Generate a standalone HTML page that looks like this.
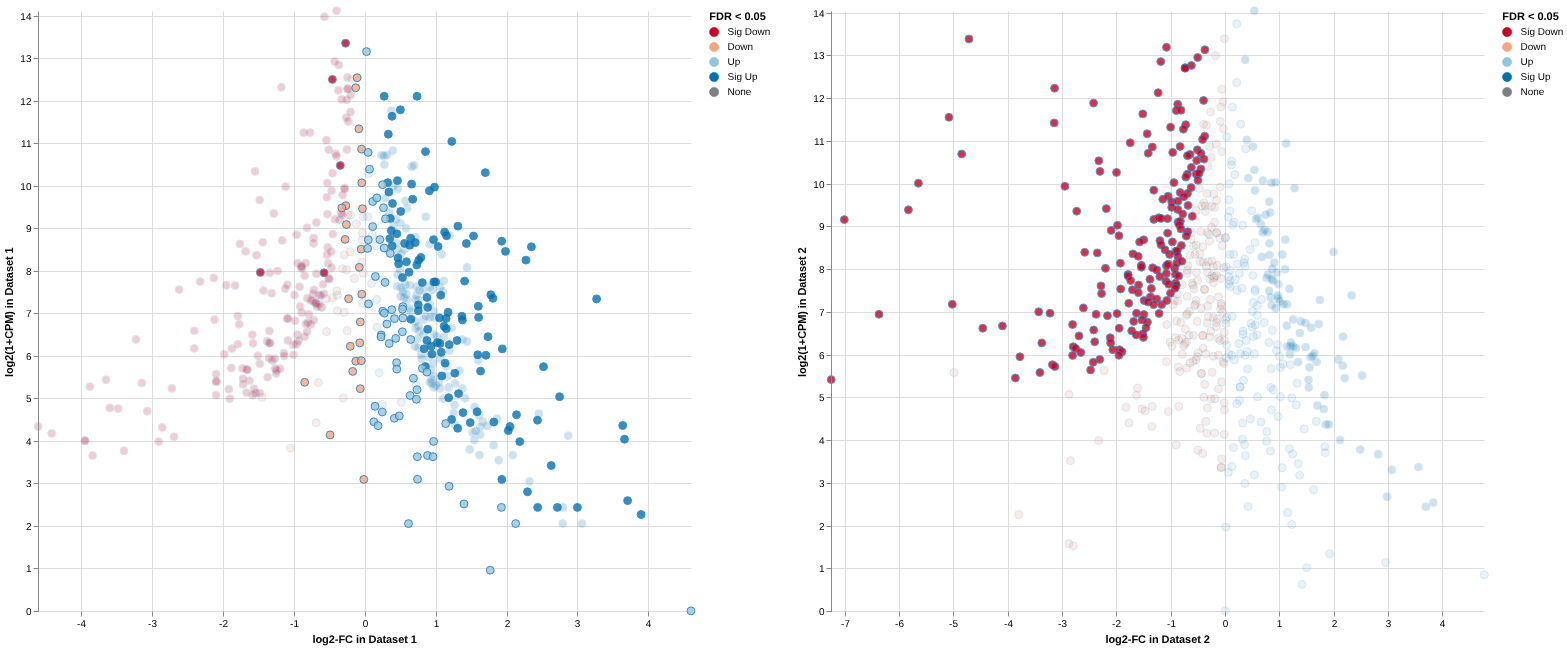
<!DOCTYPE html>
<html><head><meta charset="utf-8"><title>chart</title>
<style>html,body{margin:0;padding:0;background:#fff}svg{display:block;will-change:transform}text{font-family:"Liberation Sans",sans-serif;fill:#000}</style>
</head><body>
<svg width="1567" height="649" viewBox="0 0 1567 649">
<rect width="1567" height="649" fill="#fff"/>
<path d="M81.5 11.5V611.5M152.5 11.5V611.5M223.5 11.5V611.5M294.5 11.5V611.5M365.5 11.5V611.5M436.5 11.5V611.5M507.5 11.5V611.5M577.5 11.5V611.5M648.5 11.5V611.5M38.5 611.5H691.5M38.5 568.5H691.5M38.5 526.5H691.5M38.5 483.5H691.5M38.5 441.5H691.5M38.5 398.5H691.5M38.5 356.5H691.5M38.5 313.5H691.5M38.5 271.5H691.5M38.5 228.5H691.5M38.5 186.5H691.5M38.5 143.5H691.5M38.5 101.5H691.5M38.5 58.5H691.5M38.5 16.5H691.5" stroke="#ddd" stroke-width="1" fill="none"/>
<g stroke="#1f77b4" stroke-width="1">
<circle opacity="0.2" stroke="#2a7fc0" cx="336.5" cy="10.8" r="3.95" fill="#ca0020"/>
<circle opacity="0.2" stroke="#2a7fc0" cx="324.4" cy="16.7" r="3.95" fill="#ca0020"/>
<circle opacity="0.2" stroke="#2a7fc0" cx="334.6" cy="61.4" r="3.95" fill="#ca0020"/>
<circle opacity="0.2" stroke="#2a7fc0" cx="338.9" cy="64.9" r="3.95" fill="#ca0020"/>
<circle opacity="0.2" stroke="#2a7fc0" cx="281.3" cy="87.3" r="3.95" fill="#ca0020"/>
<circle opacity="0.2" stroke="#2a7fc0" cx="347.3" cy="77.5" r="3.95" fill="#ca0020"/>
<circle opacity="0.2" stroke="#2a7fc0" cx="352.4" cy="79.0" r="3.95" fill="#f4a582"/>
<circle opacity="0.2" stroke="#2a7fc0" cx="347.7" cy="88.6" r="3.95" fill="#ca0020"/>
<circle opacity="0.2" stroke="#2a7fc0" cx="347.7" cy="89.0" r="3.95" fill="#ca0020"/>
<circle opacity="0.2" stroke="#2a7fc0" cx="338.5" cy="90.4" r="3.95" fill="#ca0020"/>
<circle opacity="0.2" stroke="#2a7fc0" cx="350.8" cy="94.9" r="3.95" fill="#ca0020"/>
<circle opacity="0.2" stroke="#2a7fc0" cx="341.6" cy="99.4" r="3.95" fill="#ca0020"/>
<circle opacity="0.2" stroke="#2a7fc0" cx="346.9" cy="99.8" r="3.95" fill="#ca0020"/>
<circle opacity="0.2" stroke="#2a7fc0" cx="391.6" cy="110.6" r="3.95" fill="#0571b0"/>
<circle opacity="0.2" stroke="#2a7fc0" cx="350.5" cy="111.9" r="3.95" fill="#ca0020"/>
<circle opacity="0.2" stroke="#2a7fc0" cx="346.3" cy="117.6" r="3.95" fill="#ca0020"/>
<circle opacity="0.2" stroke="#2a7fc0" cx="348.3" cy="121.4" r="3.95" fill="#ca0020"/>
<circle opacity="0.2" stroke="#2a7fc0" cx="339.7" cy="220.0" r="3.95" fill="#ca0020"/>
<circle opacity="0.2" stroke="#2a7fc0" cx="303.6" cy="132.6" r="3.95" fill="#ca0020"/>
<circle opacity="0.2" stroke="#2a7fc0" cx="310.1" cy="132.6" r="3.95" fill="#ca0020"/>
<circle opacity="0.2" stroke="#2a7fc0" cx="326.4" cy="140.2" r="3.95" fill="#ca0020"/>
<circle opacity="0.2" stroke="#2a7fc0" cx="328.7" cy="149.8" r="3.95" fill="#ca0020"/>
<circle opacity="0.2" stroke="#2a7fc0" cx="346.9" cy="149.5" r="3.95" fill="#ca0020"/>
<circle opacity="0.2" stroke="#2a7fc0" cx="335.6" cy="153.6" r="3.95" fill="#ca0020"/>
<circle opacity="0.2" stroke="#2a7fc0" cx="336.5" cy="156.3" r="3.95" fill="#ca0020"/>
<circle opacity="0.2" stroke="#2a7fc0" cx="392.8" cy="150.6" r="3.95" fill="#0571b0"/>
<circle opacity="0.2" stroke="#2a7fc0" cx="381.4" cy="155.3" r="3.95" fill="#0571b0"/>
<circle opacity="0.2" stroke="#2a7fc0" cx="384.0" cy="155.7" r="3.95" fill="#0571b0"/>
<circle opacity="0.2" stroke="#2a7fc0" cx="387.1" cy="155.1" r="3.95" fill="#0571b0"/>
<circle opacity="0.2" stroke="#2a7fc0" cx="384.4" cy="164.5" r="3.95" fill="#0571b0"/>
<circle opacity="0.2" stroke="#2a7fc0" cx="368.5" cy="173.6" r="3.95" fill="#92c5de"/>
<circle opacity="0.2" stroke="#2a7fc0" cx="411.6" cy="166.7" r="3.95" fill="#0571b0"/>
<circle opacity="0.2" stroke="#2a7fc0" cx="414.1" cy="165.3" r="3.95" fill="#0571b0"/>
<circle opacity="0.2" stroke="#2a7fc0" cx="255.0" cy="171.4" r="3.95" fill="#ca0020"/>
<circle opacity="0.2" stroke="#2a7fc0" cx="332.6" cy="173.2" r="3.95" fill="#ca0020"/>
<circle opacity="0.2" stroke="#2a7fc0" cx="327.3" cy="183.0" r="3.95" fill="#ca0020"/>
<circle opacity="0.2" stroke="#2a7fc0" cx="285.6" cy="186.7" r="3.95" fill="#ca0020"/>
<circle opacity="0.2" stroke="#2a7fc0" cx="344.6" cy="187.9" r="3.95" fill="#ca0020"/>
<circle opacity="0.2" stroke="#2a7fc0" cx="344.6" cy="189.0" r="3.95" fill="#ca0020"/>
<circle opacity="0.2" stroke="#2a7fc0" cx="331.6" cy="190.6" r="3.95" fill="#ca0020"/>
<circle opacity="0.2" stroke="#2a7fc0" cx="342.6" cy="195.1" r="3.95" fill="#ca0020"/>
<circle opacity="0.2" stroke="#2a7fc0" cx="326.9" cy="197.3" r="3.95" fill="#ca0020"/>
<circle opacity="0.2" stroke="#2a7fc0" cx="259.7" cy="200.0" r="3.95" fill="#ca0020"/>
<circle opacity="0.2" stroke="#2a7fc0" cx="397.9" cy="189.0" r="3.95" fill="#0571b0"/>
<circle opacity="0.2" stroke="#2a7fc0" cx="393.2" cy="186.3" r="3.95" fill="#0571b0"/>
<circle opacity="0.2" stroke="#2a7fc0" cx="273.8" cy="213.5" r="3.95" fill="#ca0020"/>
<circle opacity="0.2" stroke="#2a7fc0" cx="327.5" cy="214.1" r="3.95" fill="#ca0020"/>
<circle opacity="0.2" stroke="#2a7fc0" cx="335.0" cy="219.4" r="3.95" fill="#ca0020"/>
<circle opacity="0.2" stroke="#2a7fc0" cx="316.4" cy="222.5" r="3.95" fill="#ca0020"/>
<circle opacity="0.2" stroke="#2a7fc0" cx="307.1" cy="227.8" r="3.95" fill="#ca0020"/>
<circle opacity="0.2" stroke="#2a7fc0" cx="296.6" cy="234.7" r="3.95" fill="#ca0020"/>
<circle opacity="0.2" stroke="#2a7fc0" cx="332.8" cy="234.1" r="3.95" fill="#ca0020"/>
<circle opacity="0.2" stroke="#2a7fc0" cx="313.6" cy="238.0" r="3.95" fill="#ca0020"/>
<circle opacity="0.2" stroke="#2a7fc0" cx="313.6" cy="243.5" r="3.95" fill="#ca0020"/>
<circle opacity="0.2" stroke="#2a7fc0" cx="282.1" cy="240.4" r="3.95" fill="#ca0020"/>
<circle opacity="0.2" stroke="#2a7fc0" cx="262.7" cy="242.3" r="3.95" fill="#ca0020"/>
<circle opacity="0.2" stroke="#2a7fc0" cx="239.9" cy="243.9" r="3.95" fill="#ca0020"/>
<circle opacity="0.2" stroke="#2a7fc0" cx="245.6" cy="251.4" r="3.95" fill="#ca0020"/>
<circle opacity="0.2" stroke="#2a7fc0" cx="256.6" cy="255.1" r="3.95" fill="#ca0020"/>
<circle opacity="0.2" stroke="#2a7fc0" cx="327.7" cy="247.4" r="3.95" fill="#ca0020"/>
<circle opacity="0.2" stroke="#2a7fc0" cx="331.4" cy="251.7" r="3.95" fill="#ca0020"/>
<circle opacity="0.2" stroke="#2a7fc0" cx="326.9" cy="254.7" r="3.95" fill="#ca0020"/>
<circle opacity="0.2" stroke="#2a7fc0" cx="341.0" cy="213.0" r="3.95" fill="#ca0020"/>
<circle opacity="0.2" stroke="#2a7fc0" cx="385.2" cy="198.2" r="3.95" fill="#0571b0"/>
<circle opacity="0.2" stroke="#2a7fc0" cx="405.6" cy="200.8" r="3.95" fill="#0571b0"/>
<circle opacity="0.2" stroke="#2a7fc0" cx="407.2" cy="207.9" r="3.95" fill="#0571b0"/>
<circle opacity="0.2" stroke="#2a7fc0" cx="425.8" cy="216.8" r="3.95" fill="#0571b0"/>
<circle opacity="0.2" stroke="#2a7fc0" cx="389.3" cy="212.5" r="3.95" fill="#0571b0"/>
<circle opacity="0.2" stroke="#2a7fc0" cx="395.9" cy="219.2" r="3.95" fill="#0571b0"/>
<circle opacity="0.2" stroke="#2a7fc0" cx="400.5" cy="223.2" r="3.95" fill="#0571b0"/>
<circle opacity="0.2" stroke="#2a7fc0" cx="406.1" cy="228.3" r="3.95" fill="#0571b0"/>
<circle opacity="0.2" stroke="#2a7fc0" cx="393.4" cy="225.8" r="3.95" fill="#0571b0"/>
<circle opacity="0.2" stroke="#2a7fc0" cx="429.6" cy="244.2" r="3.95" fill="#0571b0"/>
<circle opacity="0.2" stroke="#2a7fc0" cx="441.7" cy="254.2" r="3.95" fill="#0571b0"/>
<circle opacity="0.2" stroke="#2a7fc0" cx="415.3" cy="237.0" r="3.95" fill="#0571b0"/>
<circle opacity="0.2" stroke="#2a7fc0" cx="449.5" cy="235.5" r="3.95" fill="#0571b0"/>
<circle opacity="0.2" stroke="#2a7fc0" cx="396.9" cy="243.2" r="3.95" fill="#0571b0"/>
<circle opacity="0.2" stroke="#2a7fc0" cx="397.5" cy="250.3" r="3.95" fill="#0571b0"/>
<circle opacity="0.2" stroke="#2a7fc0" cx="401.5" cy="253.9" r="3.95" fill="#0571b0"/>
<circle opacity="0.2" stroke="#2a7fc0" cx="404.6" cy="249.3" r="3.95" fill="#0571b0"/>
<circle opacity="0.2" stroke="#2a7fc0" cx="350.5" cy="215.1" r="3.95" fill="#f4a582"/>
<circle opacity="0.2" stroke="#2a7fc0" cx="347.9" cy="214.6" r="3.95" fill="#f4a582"/>
<circle opacity="0.2" stroke="#2a7fc0" cx="363.2" cy="216.8" r="3.95" fill="#f4a582"/>
<circle opacity="0.2" stroke="#2a7fc0" cx="367.6" cy="216.6" r="3.95" fill="#92c5de"/>
<circle opacity="0.2" stroke="#2a7fc0" cx="356.4" cy="223.8" r="3.95" fill="#f4a582"/>
<circle opacity="0.2" stroke="#2a7fc0" cx="362.5" cy="232.9" r="3.95" fill="#f4a582"/>
<circle opacity="0.2" stroke="#2a7fc0" cx="362.2" cy="240.1" r="3.95" fill="#f4a582"/>
<circle opacity="0.2" stroke="#2a7fc0" cx="372.4" cy="235.0" r="3.95" fill="#92c5de"/>
<circle opacity="0.2" stroke="#2a7fc0" cx="376.5" cy="245.7" r="3.95" fill="#92c5de"/>
<circle opacity="0.2" stroke="#2a7fc0" cx="350.2" cy="251.8" r="3.95" fill="#f4a582"/>
<circle opacity="0.2" stroke="#2a7fc0" cx="344.3" cy="254.9" r="3.95" fill="#f4a582"/>
<circle opacity="0.2" stroke="#2a7fc0" cx="342.3" cy="214.6" r="3.95" fill="#ca0020"/>
<circle opacity="0.2" stroke="#2a7fc0" cx="276.6" cy="370.4" r="3.95" fill="#ca0020"/>
<circle opacity="0.2" stroke="#2a7fc0" cx="179.2" cy="289.6" r="3.95" fill="#ca0020"/>
<circle opacity="0.2" stroke="#2a7fc0" cx="200.2" cy="281.6" r="3.95" fill="#ca0020"/>
<circle opacity="0.2" stroke="#2a7fc0" cx="213.7" cy="277.9" r="3.95" fill="#ca0020"/>
<circle opacity="0.2" stroke="#2a7fc0" cx="226.3" cy="285.3" r="3.95" fill="#ca0020"/>
<circle opacity="0.2" stroke="#2a7fc0" cx="235.1" cy="285.5" r="3.95" fill="#ca0020"/>
<circle opacity="0.2" stroke="#2a7fc0" cx="135.9" cy="339.4" r="3.95" fill="#ca0020"/>
<circle opacity="0.2" stroke="#2a7fc0" cx="194.3" cy="330.8" r="3.95" fill="#ca0020"/>
<circle opacity="0.2" stroke="#2a7fc0" cx="194.3" cy="348.4" r="3.95" fill="#ca0020"/>
<circle opacity="0.2" stroke="#2a7fc0" cx="214.5" cy="319.6" r="3.95" fill="#ca0020"/>
<circle opacity="0.2" stroke="#2a7fc0" cx="237.8" cy="316.1" r="3.95" fill="#ca0020"/>
<circle opacity="0.2" stroke="#2a7fc0" cx="239.2" cy="324.3" r="3.95" fill="#ca0020"/>
<circle opacity="0.2" stroke="#2a7fc0" cx="106.0" cy="379.8" r="3.95" fill="#ca0020"/>
<circle opacity="0.2" stroke="#2a7fc0" cx="89.9" cy="386.6" r="3.95" fill="#ca0020"/>
<circle opacity="0.2" stroke="#2a7fc0" cx="141.8" cy="382.9" r="3.95" fill="#ca0020"/>
<circle opacity="0.2" stroke="#2a7fc0" cx="171.8" cy="388.4" r="3.95" fill="#ca0020"/>
<circle opacity="0.2" stroke="#2a7fc0" cx="216.1" cy="374.1" r="3.95" fill="#ca0020"/>
<circle opacity="0.2" stroke="#2a7fc0" cx="216.3" cy="381.0" r="3.95" fill="#ca0020"/>
<circle opacity="0.2" stroke="#2a7fc0" cx="216.3" cy="381.9" r="3.95" fill="#ca0020"/>
<circle opacity="0.2" stroke="#2a7fc0" cx="224.3" cy="354.3" r="3.95" fill="#ca0020"/>
<circle opacity="0.2" stroke="#2a7fc0" cx="231.8" cy="348.6" r="3.95" fill="#ca0020"/>
<circle opacity="0.2" stroke="#2a7fc0" cx="237.8" cy="344.3" r="3.95" fill="#ca0020"/>
<circle opacity="0.2" stroke="#2a7fc0" cx="231.4" cy="368.0" r="3.95" fill="#ca0020"/>
<circle opacity="0.2" stroke="#2a7fc0" cx="228.8" cy="389.2" r="3.95" fill="#ca0020"/>
<circle opacity="0.2" stroke="#2a7fc0" cx="269.8" cy="272.8" r="3.95" fill="#ca0020"/>
<circle opacity="0.2" stroke="#2a7fc0" cx="277.6" cy="271.0" r="3.95" fill="#ca0020"/>
<circle opacity="0.2" stroke="#2a7fc0" cx="263.5" cy="290.6" r="3.95" fill="#ca0020"/>
<circle opacity="0.2" stroke="#2a7fc0" cx="271.7" cy="293.2" r="3.95" fill="#ca0020"/>
<circle opacity="0.2" stroke="#2a7fc0" cx="287.4" cy="284.7" r="3.95" fill="#ca0020"/>
<circle opacity="0.2" stroke="#2a7fc0" cx="285.3" cy="288.7" r="3.95" fill="#ca0020"/>
<circle opacity="0.2" stroke="#2a7fc0" cx="294.5" cy="294.9" r="3.95" fill="#ca0020"/>
<circle opacity="0.2" stroke="#2a7fc0" cx="269.4" cy="331.0" r="3.95" fill="#ca0020"/>
<circle opacity="0.2" stroke="#2a7fc0" cx="252.3" cy="334.7" r="3.95" fill="#ca0020"/>
<circle opacity="0.2" stroke="#2a7fc0" cx="253.1" cy="343.3" r="3.95" fill="#ca0020"/>
<circle opacity="0.2" stroke="#2a7fc0" cx="267.0" cy="341.2" r="3.95" fill="#ca0020"/>
<circle opacity="0.2" stroke="#2a7fc0" cx="270.0" cy="342.9" r="3.95" fill="#ca0020"/>
<circle opacity="0.2" stroke="#2a7fc0" cx="269.6" cy="343.3" r="3.95" fill="#ca0020"/>
<circle opacity="0.2" stroke="#2a7fc0" cx="287.4" cy="318.8" r="3.95" fill="#ca0020"/>
<circle opacity="0.2" stroke="#2a7fc0" cx="287.8" cy="318.3" r="3.95" fill="#ca0020"/>
<circle opacity="0.2" stroke="#2a7fc0" cx="287.8" cy="340.4" r="3.95" fill="#ca0020"/>
<circle opacity="0.2" stroke="#2a7fc0" cx="257.8" cy="355.7" r="3.95" fill="#ca0020"/>
<circle opacity="0.2" stroke="#2a7fc0" cx="269.0" cy="358.2" r="3.95" fill="#ca0020"/>
<circle opacity="0.2" stroke="#2a7fc0" cx="272.1" cy="360.4" r="3.95" fill="#ca0020"/>
<circle opacity="0.2" stroke="#2a7fc0" cx="274.9" cy="358.6" r="3.95" fill="#ca0020"/>
<circle opacity="0.2" stroke="#2a7fc0" cx="283.9" cy="353.1" r="3.95" fill="#ca0020"/>
<circle opacity="0.2" stroke="#2a7fc0" cx="284.3" cy="356.1" r="3.95" fill="#ca0020"/>
<circle opacity="0.2" stroke="#2a7fc0" cx="293.5" cy="354.7" r="3.95" fill="#ca0020"/>
<circle opacity="0.2" stroke="#2a7fc0" cx="259.8" cy="363.7" r="3.95" fill="#ca0020"/>
<circle opacity="0.2" stroke="#2a7fc0" cx="242.5" cy="368.4" r="3.95" fill="#ca0020"/>
<circle opacity="0.2" stroke="#2a7fc0" cx="246.9" cy="369.4" r="3.95" fill="#ca0020"/>
<circle opacity="0.2" stroke="#2a7fc0" cx="247.4" cy="369.8" r="3.95" fill="#ca0020"/>
<circle opacity="0.2" stroke="#2a7fc0" cx="275.1" cy="368.4" r="3.95" fill="#ca0020"/>
<circle opacity="0.2" stroke="#2a7fc0" cx="280.2" cy="368.8" r="3.95" fill="#ca0020"/>
<circle opacity="0.2" stroke="#2a7fc0" cx="276.2" cy="373.5" r="3.95" fill="#ca0020"/>
<circle opacity="0.2" stroke="#2a7fc0" cx="267.6" cy="377.2" r="3.95" fill="#ca0020"/>
<circle opacity="0.2" stroke="#2a7fc0" cx="242.9" cy="378.6" r="3.95" fill="#ca0020"/>
<circle opacity="0.2" stroke="#2a7fc0" cx="249.6" cy="380.6" r="3.95" fill="#ca0020"/>
<circle opacity="0.2" stroke="#2a7fc0" cx="243.1" cy="384.3" r="3.95" fill="#ca0020"/>
<circle opacity="0.2" stroke="#2a7fc0" cx="254.1" cy="388.8" r="3.95" fill="#ca0020"/>
<circle opacity="0.2" stroke="#2a7fc0" cx="293.5" cy="344.9" r="3.95" fill="#ca0020"/>
<circle opacity="0.2" stroke="#2a7fc0" cx="296.6" cy="343.9" r="3.95" fill="#ca0020"/>
<circle opacity="0.2" stroke="#2a7fc0" cx="297.6" cy="263.2" r="3.95" fill="#ca0020"/>
<circle opacity="0.2" stroke="#2a7fc0" cx="301.7" cy="266.3" r="3.95" fill="#ca0020"/>
<circle opacity="0.2" stroke="#2a7fc0" cx="301.3" cy="266.7" r="3.95" fill="#ca0020"/>
<circle opacity="0.2" stroke="#2a7fc0" cx="305.8" cy="263.2" r="3.95" fill="#ca0020"/>
<circle opacity="0.2" stroke="#2a7fc0" cx="328.2" cy="263.2" r="3.95" fill="#ca0020"/>
<circle opacity="0.2" stroke="#2a7fc0" cx="331.7" cy="267.7" r="3.95" fill="#ca0020"/>
<circle opacity="0.2" stroke="#2a7fc0" cx="316.4" cy="273.8" r="3.95" fill="#ca0020"/>
<circle opacity="0.2" stroke="#2a7fc0" cx="304.7" cy="275.7" r="3.95" fill="#ca0020"/>
<circle opacity="0.2" stroke="#2a7fc0" cx="328.8" cy="278.5" r="3.95" fill="#ca0020"/>
<circle opacity="0.2" stroke="#2a7fc0" cx="329.2" cy="278.9" r="3.95" fill="#ca0020"/>
<circle opacity="0.2" stroke="#2a7fc0" cx="323.1" cy="284.2" r="3.95" fill="#ca0020"/>
<circle opacity="0.2" stroke="#2a7fc0" cx="299.6" cy="286.7" r="3.95" fill="#ca0020"/>
<circle opacity="0.2" stroke="#2a7fc0" cx="313.9" cy="289.8" r="3.95" fill="#ca0020"/>
<circle opacity="0.2" stroke="#2a7fc0" cx="312.9" cy="293.8" r="3.95" fill="#ca0020"/>
<circle opacity="0.2" stroke="#2a7fc0" cx="319.0" cy="294.9" r="3.95" fill="#ca0020"/>
<circle opacity="0.2" stroke="#2a7fc0" cx="324.1" cy="293.8" r="3.95" fill="#ca0020"/>
<circle opacity="0.2" stroke="#2a7fc0" cx="307.4" cy="298.3" r="3.95" fill="#ca0020"/>
<circle opacity="0.2" stroke="#2a7fc0" cx="310.9" cy="300.4" r="3.95" fill="#ca0020"/>
<circle opacity="0.2" stroke="#2a7fc0" cx="316.0" cy="303.0" r="3.95" fill="#ca0020"/>
<circle opacity="0.2" stroke="#2a7fc0" cx="321.1" cy="307.1" r="3.95" fill="#ca0020"/>
<circle opacity="0.2" stroke="#2a7fc0" cx="319.0" cy="304.1" r="3.95" fill="#ca0020"/>
<circle opacity="0.2" stroke="#2a7fc0" cx="300.2" cy="306.5" r="3.95" fill="#ca0020"/>
<circle opacity="0.2" stroke="#2a7fc0" cx="301.7" cy="312.8" r="3.95" fill="#ca0020"/>
<circle opacity="0.2" stroke="#2a7fc0" cx="308.8" cy="314.3" r="3.95" fill="#ca0020"/>
<circle opacity="0.2" stroke="#2a7fc0" cx="295.1" cy="320.8" r="3.95" fill="#ca0020"/>
<circle opacity="0.2" stroke="#2a7fc0" cx="313.9" cy="320.0" r="3.95" fill="#ca0020"/>
<circle opacity="0.2" stroke="#2a7fc0" cx="307.8" cy="322.4" r="3.95" fill="#ca0020"/>
<circle opacity="0.2" stroke="#2a7fc0" cx="305.8" cy="323.9" r="3.95" fill="#ca0020"/>
<circle opacity="0.2" stroke="#2a7fc0" cx="310.9" cy="324.5" r="3.95" fill="#ca0020"/>
<circle opacity="0.2" stroke="#2a7fc0" cx="307.2" cy="331.6" r="3.95" fill="#ca0020"/>
<circle opacity="0.2" stroke="#2a7fc0" cx="297.6" cy="334.7" r="3.95" fill="#ca0020"/>
<circle opacity="0.2" stroke="#2a7fc0" cx="304.7" cy="336.7" r="3.95" fill="#ca0020"/>
<circle opacity="0.2" stroke="#2a7fc0" cx="298.6" cy="340.8" r="3.95" fill="#ca0020"/>
<circle opacity="0.2" stroke="#2a7fc0" cx="342.5" cy="268.7" r="3.95" fill="#f4a582"/>
<circle opacity="0.2" stroke="#2a7fc0" cx="346.6" cy="269.7" r="3.95" fill="#f4a582"/>
<circle opacity="0.2" stroke="#2a7fc0" cx="354.4" cy="278.5" r="3.95" fill="#f4a582"/>
<circle opacity="0.2" stroke="#2a7fc0" cx="336.8" cy="290.8" r="3.95" fill="#f4a582"/>
<circle opacity="0.2" stroke="#2a7fc0" cx="337.4" cy="295.3" r="3.95" fill="#f4a582"/>
<circle opacity="0.2" stroke="#2a7fc0" cx="332.3" cy="297.9" r="3.95" fill="#f4a582"/>
<circle opacity="0.2" stroke="#2a7fc0" cx="326.2" cy="298.9" r="3.95" fill="#f4a582"/>
<circle opacity="0.2" stroke="#2a7fc0" cx="337.4" cy="310.8" r="3.95" fill="#f4a582"/>
<circle opacity="0.2" stroke="#2a7fc0" cx="344.2" cy="312.4" r="3.95" fill="#f4a582"/>
<circle opacity="0.2" stroke="#2a7fc0" cx="326.6" cy="331.6" r="3.95" fill="#f4a582"/>
<circle opacity="0.2" stroke="#2a7fc0" cx="347.2" cy="330.6" r="3.95" fill="#f4a582"/>
<circle opacity="0.2" stroke="#2a7fc0" cx="318.4" cy="382.7" r="3.95" fill="#f4a582"/>
<circle opacity="0.2" stroke="#2a7fc0" cx="467.0" cy="267.5" r="3.95" fill="#0571b0"/>
<circle opacity="0.2" stroke="#2a7fc0" cx="443.8" cy="280.9" r="3.95" fill="#0571b0"/>
<circle opacity="0.2" stroke="#2a7fc0" cx="371.5" cy="283.4" r="3.95" fill="#92c5de"/>
<circle opacity="0.2" stroke="#2a7fc0" cx="376.8" cy="299.5" r="3.95" fill="#92c5de"/>
<circle opacity="0.2" stroke="#2a7fc0" cx="383.3" cy="279.6" r="3.95" fill="#92c5de"/>
<circle opacity="0.2" stroke="#2a7fc0" cx="363.4" cy="273.4" r="3.95" fill="#f4a582"/>
<circle opacity="0.2" stroke="#2a7fc0" cx="362.3" cy="262.2" r="3.95" fill="#f4a582"/>
<circle opacity="0.2" stroke="#2a7fc0" cx="362.3" cy="303.1" r="3.95" fill="#f4a582"/>
<circle opacity="0.2" stroke="#2a7fc0" cx="397.6" cy="274.5" r="3.95" fill="#0571b0"/>
<circle opacity="0.2" stroke="#2a7fc0" cx="400.1" cy="269.3" r="3.95" fill="#0571b0"/>
<circle opacity="0.2" stroke="#2a7fc0" cx="397.1" cy="286.2" r="3.95" fill="#0571b0"/>
<circle opacity="0.2" stroke="#2a7fc0" cx="401.2" cy="287.7" r="3.95" fill="#0571b0"/>
<circle opacity="0.2" stroke="#2a7fc0" cx="405.2" cy="284.7" r="3.95" fill="#0571b0"/>
<circle opacity="0.2" stroke="#2a7fc0" cx="409.8" cy="285.2" r="3.95" fill="#0571b0"/>
<circle opacity="0.2" stroke="#2a7fc0" cx="403.2" cy="291.8" r="3.95" fill="#0571b0"/>
<circle opacity="0.2" stroke="#2a7fc0" cx="406.3" cy="293.9" r="3.95" fill="#0571b0"/>
<circle opacity="0.2" stroke="#2a7fc0" cx="400.6" cy="296.4" r="3.95" fill="#0571b0"/>
<circle opacity="0.2" stroke="#2a7fc0" cx="404.2" cy="297.9" r="3.95" fill="#0571b0"/>
<circle opacity="0.2" stroke="#2a7fc0" cx="407.3" cy="300.0" r="3.95" fill="#0571b0"/>
<circle opacity="0.2" stroke="#2a7fc0" cx="416.5" cy="286.7" r="3.95" fill="#0571b0"/>
<circle opacity="0.2" stroke="#2a7fc0" cx="419.5" cy="290.3" r="3.95" fill="#0571b0"/>
<circle opacity="0.2" stroke="#2a7fc0" cx="423.6" cy="290.8" r="3.95" fill="#0571b0"/>
<circle opacity="0.2" stroke="#2a7fc0" cx="429.8" cy="286.7" r="3.95" fill="#0571b0"/>
<circle opacity="0.2" stroke="#2a7fc0" cx="432.3" cy="289.8" r="3.95" fill="#0571b0"/>
<circle opacity="0.2" stroke="#2a7fc0" cx="440.0" cy="287.2" r="3.95" fill="#0571b0"/>
<circle opacity="0.2" stroke="#2a7fc0" cx="443.0" cy="291.3" r="3.95" fill="#0571b0"/>
<circle opacity="0.2" stroke="#2a7fc0" cx="416.5" cy="294.9" r="3.95" fill="#0571b0"/>
<circle opacity="0.2" stroke="#2a7fc0" cx="415.5" cy="299.5" r="3.95" fill="#0571b0"/>
<circle opacity="0.2" stroke="#2a7fc0" cx="418.5" cy="300.0" r="3.95" fill="#0571b0"/>
<circle opacity="0.2" stroke="#2a7fc0" cx="409.3" cy="308.2" r="3.95" fill="#0571b0"/>
<circle opacity="0.2" stroke="#2a7fc0" cx="410.3" cy="311.2" r="3.95" fill="#0571b0"/>
<circle opacity="0.2" stroke="#2a7fc0" cx="429.8" cy="304.1" r="3.95" fill="#0571b0"/>
<circle opacity="0.2" stroke="#2a7fc0" cx="433.8" cy="311.2" r="3.95" fill="#0571b0"/>
<circle opacity="0.2" stroke="#2a7fc0" cx="425.7" cy="315.8" r="3.95" fill="#0571b0"/>
<circle opacity="0.2" stroke="#2a7fc0" cx="429.8" cy="317.4" r="3.95" fill="#0571b0"/>
<circle opacity="0.2" stroke="#2a7fc0" cx="423.6" cy="319.4" r="3.95" fill="#0571b0"/>
<circle opacity="0.2" stroke="#2a7fc0" cx="433.8" cy="317.4" r="3.95" fill="#0571b0"/>
<circle opacity="0.2" stroke="#2a7fc0" cx="415.5" cy="321.4" r="3.95" fill="#0571b0"/>
<circle opacity="0.2" stroke="#2a7fc0" cx="387.9" cy="319.4" r="3.95" fill="#92c5de"/>
<circle opacity="0.2" stroke="#2a7fc0" cx="377.1" cy="327.2" r="3.95" fill="#92c5de"/>
<circle opacity="0.2" stroke="#2a7fc0" cx="379.2" cy="372.6" r="3.95" fill="#92c5de"/>
<circle opacity="0.2" stroke="#2a7fc0" cx="416.2" cy="385.2" r="3.95" fill="#92c5de"/>
<circle opacity="0.2" stroke="#2a7fc0" cx="415.5" cy="328.2" r="3.95" fill="#0571b0"/>
<circle opacity="0.2" stroke="#2a7fc0" cx="418.5" cy="326.2" r="3.95" fill="#0571b0"/>
<circle opacity="0.2" stroke="#2a7fc0" cx="419.5" cy="331.3" r="3.95" fill="#0571b0"/>
<circle opacity="0.2" stroke="#2a7fc0" cx="423.6" cy="334.3" r="3.95" fill="#0571b0"/>
<circle opacity="0.2" stroke="#2a7fc0" cx="417.5" cy="338.9" r="3.95" fill="#0571b0"/>
<circle opacity="0.2" stroke="#2a7fc0" cx="414.9" cy="346.6" r="3.95" fill="#0571b0"/>
<circle opacity="0.2" stroke="#2a7fc0" cx="418.5" cy="347.6" r="3.95" fill="#0571b0"/>
<circle opacity="0.2" stroke="#2a7fc0" cx="433.8" cy="334.3" r="3.95" fill="#0571b0"/>
<circle opacity="0.2" stroke="#2a7fc0" cx="436.9" cy="336.4" r="3.95" fill="#0571b0"/>
<circle opacity="0.2" stroke="#2a7fc0" cx="444.1" cy="336.9" r="3.95" fill="#0571b0"/>
<circle opacity="0.2" stroke="#2a7fc0" cx="451.7" cy="327.7" r="3.95" fill="#0571b0"/>
<circle opacity="0.2" stroke="#2a7fc0" cx="462.4" cy="339.5" r="3.95" fill="#0571b0"/>
<circle opacity="0.2" stroke="#2a7fc0" cx="467.0" cy="341.5" r="3.95" fill="#0571b0"/>
<circle opacity="0.2" stroke="#2a7fc0" cx="449.2" cy="350.7" r="3.95" fill="#0571b0"/>
<circle opacity="0.2" stroke="#2a7fc0" cx="421.1" cy="354.8" r="3.95" fill="#0571b0"/>
<circle opacity="0.2" stroke="#2a7fc0" cx="421.6" cy="358.9" r="3.95" fill="#0571b0"/>
<circle opacity="0.2" stroke="#2a7fc0" cx="428.7" cy="356.8" r="3.95" fill="#0571b0"/>
<circle opacity="0.2" stroke="#2a7fc0" cx="433.3" cy="363.5" r="3.95" fill="#0571b0"/>
<circle opacity="0.2" stroke="#2a7fc0" cx="440.0" cy="358.3" r="3.95" fill="#0571b0"/>
<circle opacity="0.2" stroke="#2a7fc0" cx="446.1" cy="366.0" r="3.95" fill="#0571b0"/>
<circle opacity="0.2" stroke="#2a7fc0" cx="478.3" cy="360.4" r="3.95" fill="#0571b0"/>
<circle opacity="0.2" stroke="#2a7fc0" cx="459.4" cy="370.6" r="3.95" fill="#0571b0"/>
<circle opacity="0.2" stroke="#2a7fc0" cx="447.1" cy="376.2" r="3.95" fill="#0571b0"/>
<circle opacity="0.2" stroke="#2a7fc0" cx="430.8" cy="370.1" r="3.95" fill="#0571b0"/>
<circle opacity="0.2" stroke="#2a7fc0" cx="431.3" cy="379.3" r="3.95" fill="#0571b0"/>
<circle opacity="0.2" stroke="#2a7fc0" cx="433.8" cy="376.2" r="3.95" fill="#0571b0"/>
<circle opacity="0.2" stroke="#2a7fc0" cx="431.8" cy="383.4" r="3.95" fill="#0571b0"/>
<circle opacity="0.2" stroke="#2a7fc0" cx="435.9" cy="385.4" r="3.95" fill="#0571b0"/>
<circle opacity="0.2" stroke="#2a7fc0" cx="429.8" cy="382.4" r="3.95" fill="#0571b0"/>
<circle opacity="0.2" stroke="#2a7fc0" cx="438.9" cy="382.4" r="3.95" fill="#0571b0"/>
<circle opacity="0.2" stroke="#2a7fc0" cx="440.0" cy="388.5" r="3.95" fill="#0571b0"/>
<circle opacity="0.2" stroke="#2a7fc0" cx="433.8" cy="387.5" r="3.95" fill="#0571b0"/>
<circle opacity="0.2" stroke="#2a7fc0" cx="455.3" cy="383.4" r="3.95" fill="#0571b0"/>
<circle opacity="0.2" stroke="#2a7fc0" cx="448.6" cy="387.5" r="3.95" fill="#0571b0"/>
<circle opacity="0.2" stroke="#2a7fc0" cx="462.4" cy="388.5" r="3.95" fill="#0571b0"/>
<circle opacity="0.2" stroke="#2a7fc0" cx="109.9" cy="407.9" r="3.95" fill="#ca0020"/>
<circle opacity="0.2" stroke="#2a7fc0" cx="118.1" cy="408.5" r="3.95" fill="#ca0020"/>
<circle opacity="0.2" stroke="#2a7fc0" cx="147.3" cy="411.2" r="3.95" fill="#ca0020"/>
<circle opacity="0.2" stroke="#2a7fc0" cx="38.2" cy="426.5" r="3.95" fill="#ca0020"/>
<circle opacity="0.2" stroke="#2a7fc0" cx="51.7" cy="433.4" r="3.95" fill="#ca0020"/>
<circle opacity="0.2" stroke="#2a7fc0" cx="85.0" cy="440.4" r="3.95" fill="#ca0020"/>
<circle opacity="0.2" stroke="#2a7fc0" cx="85.0" cy="440.8" r="3.95" fill="#ca0020"/>
<circle opacity="0.2" stroke="#2a7fc0" cx="162.2" cy="427.5" r="3.95" fill="#ca0020"/>
<circle opacity="0.2" stroke="#2a7fc0" cx="174.0" cy="436.7" r="3.95" fill="#ca0020"/>
<circle opacity="0.2" stroke="#2a7fc0" cx="158.7" cy="441.6" r="3.95" fill="#ca0020"/>
<circle opacity="0.2" stroke="#2a7fc0" cx="124.0" cy="450.8" r="3.95" fill="#ca0020"/>
<circle opacity="0.2" stroke="#2a7fc0" cx="92.6" cy="455.5" r="3.95" fill="#ca0020"/>
<circle opacity="0.2" stroke="#2a7fc0" cx="216.1" cy="395.1" r="3.95" fill="#ca0020"/>
<circle opacity="0.2" stroke="#2a7fc0" cx="229.8" cy="398.7" r="3.95" fill="#ca0020"/>
<circle opacity="0.2" stroke="#2a7fc0" cx="246.5" cy="392.6" r="3.95" fill="#ca0020"/>
<circle opacity="0.2" stroke="#2a7fc0" cx="255.5" cy="393.0" r="3.95" fill="#ca0020"/>
<circle opacity="0.2" stroke="#2a7fc0" cx="259.8" cy="393.2" r="3.95" fill="#ca0020"/>
<circle opacity="0.2" stroke="#2a7fc0" cx="252.7" cy="395.3" r="3.95" fill="#ca0020"/>
<circle opacity="0.2" stroke="#2a7fc0" cx="261.9" cy="397.3" r="3.95" fill="#f4a582"/>
<circle opacity="0.2" stroke="#2a7fc0" cx="343.3" cy="397.9" r="3.95" fill="#f4a582"/>
<circle opacity="0.2" stroke="#2a7fc0" cx="316.2" cy="422.8" r="3.95" fill="#f4a582"/>
<circle opacity="0.2" stroke="#2a7fc0" cx="290.4" cy="448.1" r="3.95" fill="#f4a582"/>
<circle opacity="0.2" stroke="#2a7fc0" cx="382.3" cy="404.4" r="3.95" fill="#92c5de"/>
<circle opacity="0.2" stroke="#2a7fc0" cx="401.1" cy="402.4" r="3.95" fill="#92c5de"/>
<circle opacity="0.2" stroke="#2a7fc0" cx="443.0" cy="398.7" r="3.95" fill="#0571b0"/>
<circle opacity="0.2" stroke="#2a7fc0" cx="465.1" cy="398.3" r="3.95" fill="#0571b0"/>
<circle opacity="0.2" stroke="#2a7fc0" cx="454.6" cy="404.9" r="3.95" fill="#0571b0"/>
<circle opacity="0.2" stroke="#2a7fc0" cx="453.8" cy="413.0" r="3.95" fill="#0571b0"/>
<circle opacity="0.2" stroke="#2a7fc0" cx="474.6" cy="406.9" r="3.95" fill="#0571b0"/>
<circle opacity="0.2" stroke="#2a7fc0" cx="479.1" cy="415.1" r="3.95" fill="#0571b0"/>
<circle opacity="0.2" stroke="#2a7fc0" cx="482.8" cy="421.8" r="3.95" fill="#0571b0"/>
<circle opacity="0.2" stroke="#2a7fc0" cx="487.3" cy="425.9" r="3.95" fill="#0571b0"/>
<circle opacity="0.2" stroke="#2a7fc0" cx="497.1" cy="418.7" r="3.95" fill="#0571b0"/>
<circle opacity="0.2" stroke="#2a7fc0" cx="480.2" cy="426.9" r="3.95" fill="#0571b0"/>
<circle opacity="0.2" stroke="#2a7fc0" cx="475.7" cy="431.0" r="3.95" fill="#0571b0"/>
<circle opacity="0.2" stroke="#2a7fc0" cx="472.6" cy="432.6" r="3.95" fill="#0571b0"/>
<circle opacity="0.2" stroke="#2a7fc0" cx="480.2" cy="434.7" r="3.95" fill="#0571b0"/>
<circle opacity="0.2" stroke="#2a7fc0" cx="474.2" cy="440.2" r="3.95" fill="#0571b0"/>
<circle opacity="0.2" stroke="#2a7fc0" cx="455.2" cy="424.9" r="3.95" fill="#0571b0"/>
<circle opacity="0.2" stroke="#2a7fc0" cx="469.7" cy="449.4" r="3.95" fill="#0571b0"/>
<circle opacity="0.2" stroke="#2a7fc0" cx="493.6" cy="445.3" r="3.95" fill="#0571b0"/>
<circle opacity="0.2" stroke="#2a7fc0" cx="479.5" cy="455.1" r="3.95" fill="#0571b0"/>
<circle opacity="0.2" stroke="#2a7fc0" cx="498.7" cy="460.2" r="3.95" fill="#0571b0"/>
<circle opacity="0.2" stroke="#2a7fc0" cx="512.8" cy="455.1" r="3.95" fill="#0571b0"/>
<circle opacity="0.2" stroke="#2a7fc0" cx="538.8" cy="413.6" r="3.95" fill="#0571b0"/>
<circle opacity="0.2" stroke="#2a7fc0" cx="568.2" cy="435.7" r="3.95" fill="#0571b0"/>
<circle opacity="0.2" stroke="#2a7fc0" cx="529.4" cy="481.4" r="3.95" fill="#0571b0"/>
<circle opacity="0.2" stroke="#2a7fc0" cx="563.1" cy="507.4" r="3.95" fill="#0571b0"/>
<circle opacity="0.2" stroke="#2a7fc0" cx="562.7" cy="523.6" r="3.95" fill="#0571b0"/>
<circle opacity="0.2" stroke="#2a7fc0" cx="581.9" cy="523.6" r="3.95" fill="#0571b0"/>
<circle opacity="0.2" stroke="#2a7fc0" cx="320.9" cy="295.6" r="3.95" fill="#ca0020"/>
<circle opacity="0.2" stroke="#2a7fc0" cx="313.0" cy="301.0" r="3.95" fill="#ca0020"/>
<circle opacity="0.2" stroke="#2a7fc0" cx="315.5" cy="303.3" r="3.95" fill="#ca0020"/>
<circle opacity="0.2" stroke="#2a7fc0" cx="317.1" cy="306.6" r="3.95" fill="#ca0020"/>
<circle opacity="0.2" stroke="#2a7fc0" cx="322.2" cy="307.6" r="3.95" fill="#f4a582"/>
<circle opacity="0.2" stroke="#2a7fc0" cx="301.8" cy="268.5" r="3.95" fill="#ca0020"/>
<circle cx="384.2" cy="96.3" r="3.95" fill="#0571b0" stroke="#0a72b1" opacity="0.8"/>
<circle cx="417.1" cy="96.3" r="3.95" fill="#0571b0" stroke="#0a72b1" opacity="0.8"/>
<circle cx="400.4" cy="109.8" r="3.95" fill="#0571b0" stroke="#0a72b1" opacity="0.8"/>
<circle cx="392.0" cy="116.3" r="3.95" fill="#0571b0" stroke="#0a72b1" opacity="0.8"/>
<circle cx="388.3" cy="134.2" r="3.95" fill="#0571b0" stroke="#0a72b1" opacity="0.8"/>
<circle cx="451.8" cy="141.4" r="3.95" fill="#0571b0" stroke="#0a72b1" opacity="0.8"/>
<circle cx="425.5" cy="151.6" r="3.95" fill="#0571b0" stroke="#0a72b1" opacity="0.8"/>
<circle cx="485.3" cy="172.6" r="3.95" fill="#0571b0" stroke="#0a72b1" opacity="0.8"/>
<circle cx="387.7" cy="182.6" r="3.95" fill="#0571b0" stroke="#0a72b1" opacity="0.8"/>
<circle cx="397.5" cy="180.6" r="3.95" fill="#0571b0" stroke="#0a72b1" opacity="0.8"/>
<circle cx="411.6" cy="184.1" r="3.95" fill="#0571b0" stroke="#0a72b1" opacity="0.8"/>
<circle cx="434.5" cy="187.1" r="3.95" fill="#0571b0" stroke="#0a72b1" opacity="0.8"/>
<circle cx="429.4" cy="190.8" r="3.95" fill="#0571b0" stroke="#0a72b1" opacity="0.8"/>
<circle cx="388.9" cy="192.0" r="3.95" fill="#0571b0" stroke="#0a72b1" opacity="0.8"/>
<circle cx="501.7" cy="241.2" r="3.95" fill="#0571b0" stroke="#0a72b1" opacity="0.8"/>
<circle cx="505.5" cy="251.4" r="3.95" fill="#0571b0" stroke="#0a72b1" opacity="0.8"/>
<circle cx="392.5" cy="203.5" r="3.95" fill="#0571b0" stroke="#0a72b1" opacity="0.8"/>
<circle cx="412.7" cy="199.2" r="3.95" fill="#0571b0" stroke="#0a72b1" opacity="0.8"/>
<circle cx="400.7" cy="211.5" r="3.95" fill="#0571b0" stroke="#0a72b1" opacity="0.8"/>
<circle cx="390.3" cy="218.4" r="3.95" fill="#0571b0" stroke="#0a72b1" opacity="0.8"/>
<circle cx="391.3" cy="230.6" r="3.95" fill="#0571b0" stroke="#0a72b1" opacity="0.8"/>
<circle cx="396.9" cy="233.8" r="3.95" fill="#0571b0" stroke="#0a72b1" opacity="0.8"/>
<circle cx="389.8" cy="238.6" r="3.95" fill="#0571b0" stroke="#0a72b1" opacity="0.8"/>
<circle cx="392.1" cy="245.9" r="3.95" fill="#0571b0" stroke="#0a72b1" opacity="0.8"/>
<circle cx="404.6" cy="243.4" r="3.95" fill="#0571b0" stroke="#0a72b1" opacity="0.8"/>
<circle cx="410.7" cy="238.1" r="3.95" fill="#0571b0" stroke="#0a72b1" opacity="0.8"/>
<circle cx="415.3" cy="242.6" r="3.95" fill="#0571b0" stroke="#0a72b1" opacity="0.8"/>
<circle cx="409.7" cy="245.2" r="3.95" fill="#0571b0" stroke="#0a72b1" opacity="0.8"/>
<circle cx="433.5" cy="239.6" r="3.95" fill="#0571b0" stroke="#0a72b1" opacity="0.8"/>
<circle cx="438.1" cy="246.5" r="3.95" fill="#0571b0" stroke="#0a72b1" opacity="0.8"/>
<circle cx="444.6" cy="232.1" r="3.95" fill="#0571b0" stroke="#0a72b1" opacity="0.8"/>
<circle cx="446.5" cy="235.7" r="3.95" fill="#0571b0" stroke="#0a72b1" opacity="0.8"/>
<circle cx="457.9" cy="226.1" r="3.95" fill="#0571b0" stroke="#0a72b1" opacity="0.8"/>
<circle cx="473.5" cy="236.0" r="3.95" fill="#0571b0" stroke="#0a72b1" opacity="0.8"/>
<circle cx="466.4" cy="243.5" r="3.95" fill="#0571b0" stroke="#0a72b1" opacity="0.8"/>
<circle cx="398.0" cy="258.0" r="3.95" fill="#0571b0" stroke="#0a72b1" opacity="0.8"/>
<circle cx="420.9" cy="257.5" r="3.95" fill="#0571b0" stroke="#0a72b1" opacity="0.8"/>
<circle cx="418.7" cy="260.2" r="3.95" fill="#0571b0" stroke="#0a72b1" opacity="0.8"/>
<circle cx="525.9" cy="260.1" r="3.95" fill="#0571b0" stroke="#0a72b1" opacity="0.8"/>
<circle cx="596.6" cy="298.9" r="3.95" fill="#0571b0" stroke="#0a72b1" opacity="0.8"/>
<circle cx="543.5" cy="366.7" r="3.95" fill="#0571b0" stroke="#0a72b1" opacity="0.8"/>
<circle cx="398.6" cy="263.7" r="3.95" fill="#0571b0" stroke="#0a72b1" opacity="0.8"/>
<circle cx="406.5" cy="261.7" r="3.95" fill="#0571b0" stroke="#0a72b1" opacity="0.8"/>
<circle cx="416.8" cy="265.0" r="3.95" fill="#0571b0" stroke="#0a72b1" opacity="0.8"/>
<circle cx="409.0" cy="272.2" r="3.95" fill="#0571b0" stroke="#0a72b1" opacity="0.8"/>
<circle cx="402.5" cy="277.5" r="3.95" fill="#0571b0" stroke="#0a72b1" opacity="0.8"/>
<circle cx="422.3" cy="282.6" r="3.95" fill="#0571b0" stroke="#0a72b1" opacity="0.8"/>
<circle cx="433.8" cy="281.9" r="3.95" fill="#0571b0" stroke="#0a72b1" opacity="0.8"/>
<circle cx="435.7" cy="281.9" r="3.95" fill="#0571b0" stroke="#0a72b1" opacity="0.8"/>
<circle cx="464.6" cy="281.1" r="3.95" fill="#0571b0" stroke="#0a72b1" opacity="0.8"/>
<circle cx="426.9" cy="297.4" r="3.95" fill="#0571b0" stroke="#0a72b1" opacity="0.8"/>
<circle cx="440.8" cy="295.2" r="3.95" fill="#0571b0" stroke="#0a72b1" opacity="0.8"/>
<circle cx="418.3" cy="304.9" r="3.95" fill="#0571b0" stroke="#0a72b1" opacity="0.8"/>
<circle cx="418.3" cy="310.7" r="3.95" fill="#0571b0" stroke="#0a72b1" opacity="0.8"/>
<circle cx="427.7" cy="307.4" r="3.95" fill="#0571b0" stroke="#0a72b1" opacity="0.8"/>
<circle cx="410.9" cy="319.2" r="3.95" fill="#0571b0" stroke="#0a72b1" opacity="0.8"/>
<circle cx="448.1" cy="312.2" r="3.95" fill="#0571b0" stroke="#0a72b1" opacity="0.8"/>
<circle cx="439.5" cy="317.9" r="3.95" fill="#0571b0" stroke="#0a72b1" opacity="0.8"/>
<circle cx="446.1" cy="318.4" r="3.95" fill="#0571b0" stroke="#0a72b1" opacity="0.8"/>
<circle cx="461.9" cy="316.3" r="3.95" fill="#0571b0" stroke="#0a72b1" opacity="0.8"/>
<circle cx="462.4" cy="319.9" r="3.95" fill="#0571b0" stroke="#0a72b1" opacity="0.8"/>
<circle cx="478.3" cy="306.3" r="3.95" fill="#0571b0" stroke="#0a72b1" opacity="0.8"/>
<circle cx="478.6" cy="317.4" r="3.95" fill="#0571b0" stroke="#0a72b1" opacity="0.8"/>
<circle cx="490.8" cy="294.7" r="3.95" fill="#0571b0" stroke="#0a72b1" opacity="0.8"/>
<circle cx="492.9" cy="298.3" r="3.95" fill="#0571b0" stroke="#0a72b1" opacity="0.8"/>
<circle cx="427.7" cy="329.2" r="3.95" fill="#0571b0" stroke="#0a72b1" opacity="0.8"/>
<circle cx="444.1" cy="326.2" r="3.95" fill="#0571b0" stroke="#0a72b1" opacity="0.8"/>
<circle cx="446.3" cy="328.7" r="3.95" fill="#0571b0" stroke="#0a72b1" opacity="0.8"/>
<circle cx="426.9" cy="340.5" r="3.95" fill="#0571b0" stroke="#0a72b1" opacity="0.8"/>
<circle cx="431.3" cy="346.1" r="3.95" fill="#0571b0" stroke="#0a72b1" opacity="0.8"/>
<circle cx="424.1" cy="348.8" r="3.95" fill="#0571b0" stroke="#0a72b1" opacity="0.8"/>
<circle cx="432.0" cy="354.1" r="3.95" fill="#0571b0" stroke="#0a72b1" opacity="0.8"/>
<circle cx="437.4" cy="342.5" r="3.95" fill="#0571b0" stroke="#0a72b1" opacity="0.8"/>
<circle cx="440.0" cy="343.5" r="3.95" fill="#0571b0" stroke="#0a72b1" opacity="0.8"/>
<circle cx="441.2" cy="352.2" r="3.95" fill="#0571b0" stroke="#0a72b1" opacity="0.8"/>
<circle cx="449.2" cy="344.6" r="3.95" fill="#0571b0" stroke="#0a72b1" opacity="0.8"/>
<circle cx="457.0" cy="340.5" r="3.95" fill="#0571b0" stroke="#0a72b1" opacity="0.8"/>
<circle cx="488.0" cy="336.7" r="3.95" fill="#0571b0" stroke="#0a72b1" opacity="0.8"/>
<circle cx="502.3" cy="348.9" r="3.95" fill="#0571b0" stroke="#0a72b1" opacity="0.8"/>
<circle cx="477.8" cy="354.8" r="3.95" fill="#0571b0" stroke="#0a72b1" opacity="0.8"/>
<circle cx="485.9" cy="355.3" r="3.95" fill="#0571b0" stroke="#0a72b1" opacity="0.8"/>
<circle cx="445.1" cy="363.1" r="3.95" fill="#0571b0" stroke="#0a72b1" opacity="0.8"/>
<circle cx="425.4" cy="366.5" r="3.95" fill="#0571b0" stroke="#0a72b1" opacity="0.8"/>
<circle cx="480.6" cy="371.1" r="3.95" fill="#0571b0" stroke="#0a72b1" opacity="0.8"/>
<circle cx="454.8" cy="373.2" r="3.95" fill="#0571b0" stroke="#0a72b1" opacity="0.8"/>
<circle cx="441.8" cy="375.9" r="3.95" fill="#0571b0" stroke="#0a72b1" opacity="0.8"/>
<circle cx="448.7" cy="397.7" r="3.95" fill="#0571b0" stroke="#0a72b1" opacity="0.8"/>
<circle cx="458.5" cy="393.6" r="3.95" fill="#0571b0" stroke="#0a72b1" opacity="0.8"/>
<circle cx="463.0" cy="412.6" r="3.95" fill="#0571b0" stroke="#0a72b1" opacity="0.8"/>
<circle cx="477.1" cy="411.8" r="3.95" fill="#0571b0" stroke="#0a72b1" opacity="0.8"/>
<circle cx="451.6" cy="419.4" r="3.95" fill="#0571b0" stroke="#0a72b1" opacity="0.8"/>
<circle cx="470.2" cy="422.6" r="3.95" fill="#0571b0" stroke="#0a72b1" opacity="0.8"/>
<circle cx="457.7" cy="428.3" r="3.95" fill="#0571b0" stroke="#0a72b1" opacity="0.8"/>
<circle cx="493.8" cy="422.0" r="3.95" fill="#0571b0" stroke="#0a72b1" opacity="0.8"/>
<circle cx="516.5" cy="414.7" r="3.95" fill="#0571b0" stroke="#0a72b1" opacity="0.8"/>
<circle cx="510.0" cy="426.5" r="3.95" fill="#0571b0" stroke="#0a72b1" opacity="0.8"/>
<circle cx="508.3" cy="430.6" r="3.95" fill="#0571b0" stroke="#0a72b1" opacity="0.8"/>
<circle cx="519.8" cy="441.6" r="3.95" fill="#0571b0" stroke="#0a72b1" opacity="0.8"/>
<circle cx="537.5" cy="420.2" r="3.95" fill="#0571b0" stroke="#0a72b1" opacity="0.8"/>
<circle cx="559.6" cy="396.7" r="3.95" fill="#0571b0" stroke="#0a72b1" opacity="0.8"/>
<circle cx="622.7" cy="425.5" r="3.95" fill="#0571b0" stroke="#0a72b1" opacity="0.8"/>
<circle cx="624.5" cy="439.2" r="3.95" fill="#0571b0" stroke="#0a72b1" opacity="0.8"/>
<circle cx="551.2" cy="465.5" r="3.95" fill="#0571b0" stroke="#0a72b1" opacity="0.8"/>
<circle cx="501.8" cy="479.4" r="3.95" fill="#0571b0" stroke="#0a72b1" opacity="0.8"/>
<circle cx="527.5" cy="491.8" r="3.95" fill="#0571b0" stroke="#0a72b1" opacity="0.8"/>
<circle cx="537.7" cy="507.4" r="3.95" fill="#0571b0" stroke="#0a72b1" opacity="0.8"/>
<circle cx="557.4" cy="507.4" r="3.95" fill="#0571b0" stroke="#0a72b1" opacity="0.8"/>
<circle cx="577.4" cy="507.4" r="3.95" fill="#0571b0" stroke="#0a72b1" opacity="0.8"/>
<circle cx="627.6" cy="500.6" r="3.95" fill="#0571b0" stroke="#0a72b1" opacity="0.8"/>
<circle cx="641.1" cy="514.5" r="3.95" fill="#0571b0" stroke="#0a72b1" opacity="0.8"/>
<circle cx="531.4" cy="246.8" r="3.95" fill="#0571b0" stroke="#0a72b1" opacity="0.8"/>
<circle cx="345.6" cy="43.2" r="3.95" fill="#ca0020" stroke="#2a7fc0" opacity="0.8"/>
<circle cx="332.4" cy="79.4" r="3.95" fill="#ca0020" stroke="#2a7fc0" opacity="0.8"/>
<circle cx="340.3" cy="165.5" r="3.95" fill="#ca0020" stroke="#2a7fc0" opacity="0.8"/>
<circle cx="260.4" cy="272.4" r="3.95" fill="#ca0020" stroke="#2a7fc0" opacity="0.8"/>
<circle cx="324.1" cy="272.8" r="3.95" fill="#ca0020" stroke="#2a7fc0" opacity="0.8"/>
<circle cx="357.1" cy="77.7" r="3.95" fill="#f4a582" fill-opacity="0.8" stroke-opacity="0.8"/>
<circle cx="355.7" cy="87.8" r="3.95" fill="#f4a582" fill-opacity="0.8" stroke-opacity="0.8"/>
<circle cx="358.9" cy="128.8" r="3.95" fill="#f4a582" fill-opacity="0.8" stroke-opacity="0.8"/>
<circle cx="361.6" cy="149.1" r="3.95" fill="#f4a582" fill-opacity="0.8" stroke-opacity="0.8"/>
<circle cx="361.8" cy="182.8" r="3.95" fill="#f4a582" fill-opacity="0.8" stroke-opacity="0.8"/>
<circle cx="345.9" cy="205.7" r="3.95" fill="#f4a582" fill-opacity="0.8" stroke-opacity="0.8"/>
<circle cx="341.8" cy="207.9" r="3.95" fill="#f4a582" fill-opacity="0.8" stroke-opacity="0.8"/>
<circle cx="362.5" cy="208.7" r="3.95" fill="#f4a582" fill-opacity="0.8" stroke-opacity="0.8"/>
<circle cx="346.4" cy="224.5" r="3.95" fill="#f4a582" fill-opacity="0.8" stroke-opacity="0.8"/>
<circle cx="345.1" cy="239.4" r="3.95" fill="#f4a582" fill-opacity="0.8" stroke-opacity="0.8"/>
<circle cx="361.2" cy="249.1" r="3.95" fill="#f4a582" fill-opacity="0.8" stroke-opacity="0.8"/>
<circle cx="348.6" cy="298.7" r="3.95" fill="#f4a582" fill-opacity="0.8" stroke-opacity="0.8"/>
<circle cx="350.3" cy="346.3" r="3.95" fill="#f4a582" fill-opacity="0.8" stroke-opacity="0.8"/>
<circle cx="355.8" cy="361.2" r="3.95" fill="#f4a582" fill-opacity="0.8" stroke-opacity="0.8"/>
<circle cx="352.7" cy="371.4" r="3.95" fill="#f4a582" fill-opacity="0.8" stroke-opacity="0.8"/>
<circle cx="304.7" cy="382.3" r="3.95" fill="#f4a582" fill-opacity="0.8" stroke-opacity="0.8"/>
<circle cx="359.3" cy="267.3" r="3.95" fill="#f4a582" fill-opacity="0.8" stroke-opacity="0.8"/>
<circle cx="361.8" cy="294.2" r="3.95" fill="#f4a582" fill-opacity="0.8" stroke-opacity="0.8"/>
<circle cx="360.3" cy="321.9" r="3.95" fill="#f4a582" fill-opacity="0.8" stroke-opacity="0.8"/>
<circle cx="359.8" cy="342.8" r="3.95" fill="#f4a582" fill-opacity="0.8" stroke-opacity="0.8"/>
<circle cx="361.3" cy="360.7" r="3.95" fill="#f4a582" fill-opacity="0.8" stroke-opacity="0.8"/>
<circle cx="360.3" cy="388.7" r="3.95" fill="#f4a582" fill-opacity="0.8" stroke-opacity="0.8"/>
<circle cx="330.1" cy="434.9" r="3.95" fill="#f4a582" fill-opacity="0.8" stroke-opacity="0.8"/>
<circle cx="363.8" cy="479.4" r="3.95" fill="#f4a582" fill-opacity="0.8" stroke-opacity="0.8"/>
<circle cx="366.5" cy="51.6" r="3.95" fill="#92c5de" fill-opacity="0.8" stroke-opacity="0.8"/>
<circle cx="368.1" cy="152.4" r="3.95" fill="#92c5de" fill-opacity="0.8" stroke-opacity="0.8"/>
<circle cx="369.5" cy="169.2" r="3.95" fill="#92c5de" fill-opacity="0.8" stroke-opacity="0.8"/>
<circle cx="382.6" cy="184.7" r="3.95" fill="#92c5de" fill-opacity="0.8" stroke-opacity="0.8"/>
<circle cx="372.7" cy="201.5" r="3.95" fill="#92c5de" fill-opacity="0.8" stroke-opacity="0.8"/>
<circle cx="376.8" cy="197.9" r="3.95" fill="#92c5de" fill-opacity="0.8" stroke-opacity="0.8"/>
<circle cx="383.5" cy="207.7" r="3.95" fill="#92c5de" fill-opacity="0.8" stroke-opacity="0.8"/>
<circle cx="385.5" cy="218.8" r="3.95" fill="#92c5de" fill-opacity="0.8" stroke-opacity="0.8"/>
<circle cx="372.7" cy="226.6" r="3.95" fill="#92c5de" fill-opacity="0.8" stroke-opacity="0.8"/>
<circle cx="368.3" cy="239.8" r="3.95" fill="#92c5de" fill-opacity="0.8" stroke-opacity="0.8"/>
<circle cx="379.9" cy="239.6" r="3.95" fill="#92c5de" fill-opacity="0.8" stroke-opacity="0.8"/>
<circle cx="367.6" cy="248.4" r="3.95" fill="#92c5de" fill-opacity="0.8" stroke-opacity="0.8"/>
<circle cx="384.2" cy="248.0" r="3.95" fill="#92c5de" fill-opacity="0.8" stroke-opacity="0.8"/>
<circle cx="390.3" cy="253.4" r="3.95" fill="#92c5de" fill-opacity="0.8" stroke-opacity="0.8"/>
<circle cx="375.4" cy="276.5" r="3.95" fill="#92c5de" fill-opacity="0.8" stroke-opacity="0.8"/>
<circle cx="385.0" cy="282.4" r="3.95" fill="#92c5de" fill-opacity="0.8" stroke-opacity="0.8"/>
<circle cx="368.5" cy="303.9" r="3.95" fill="#92c5de" fill-opacity="0.8" stroke-opacity="0.8"/>
<circle cx="382.8" cy="311.2" r="3.95" fill="#92c5de" fill-opacity="0.8" stroke-opacity="0.8"/>
<circle cx="384.3" cy="313.1" r="3.95" fill="#92c5de" fill-opacity="0.8" stroke-opacity="0.8"/>
<circle cx="391.8" cy="309.7" r="3.95" fill="#92c5de" fill-opacity="0.8" stroke-opacity="0.8"/>
<circle cx="402.9" cy="306.6" r="3.95" fill="#92c5de" fill-opacity="0.8" stroke-opacity="0.8"/>
<circle cx="402.5" cy="309.2" r="3.95" fill="#92c5de" fill-opacity="0.8" stroke-opacity="0.8"/>
<circle cx="394.5" cy="318.6" r="3.95" fill="#92c5de" fill-opacity="0.8" stroke-opacity="0.8"/>
<circle cx="402.9" cy="317.9" r="3.95" fill="#92c5de" fill-opacity="0.8" stroke-opacity="0.8"/>
<circle cx="386.9" cy="324.0" r="3.95" fill="#92c5de" fill-opacity="0.8" stroke-opacity="0.8"/>
<circle cx="402.4" cy="331.8" r="3.95" fill="#92c5de" fill-opacity="0.8" stroke-opacity="0.8"/>
<circle cx="381.2" cy="334.9" r="3.95" fill="#92c5de" fill-opacity="0.8" stroke-opacity="0.8"/>
<circle cx="381.0" cy="336.9" r="3.95" fill="#92c5de" fill-opacity="0.8" stroke-opacity="0.8"/>
<circle cx="395.7" cy="338.4" r="3.95" fill="#92c5de" fill-opacity="0.8" stroke-opacity="0.8"/>
<circle cx="389.2" cy="343.5" r="3.95" fill="#92c5de" fill-opacity="0.8" stroke-opacity="0.8"/>
<circle cx="410.7" cy="339.5" r="3.95" fill="#92c5de" fill-opacity="0.8" stroke-opacity="0.8"/>
<circle cx="396.6" cy="362.7" r="3.95" fill="#92c5de" fill-opacity="0.8" stroke-opacity="0.8"/>
<circle cx="396.8" cy="369.1" r="3.95" fill="#92c5de" fill-opacity="0.8" stroke-opacity="0.8"/>
<circle cx="422.4" cy="368.4" r="3.95" fill="#92c5de" fill-opacity="0.8" stroke-opacity="0.8"/>
<circle cx="426.9" cy="372.1" r="3.95" fill="#92c5de" fill-opacity="0.8" stroke-opacity="0.8"/>
<circle cx="413.4" cy="378.3" r="3.95" fill="#92c5de" fill-opacity="0.8" stroke-opacity="0.8"/>
<circle cx="417.0" cy="389.7" r="3.95" fill="#92c5de" fill-opacity="0.8" stroke-opacity="0.8"/>
<circle cx="375.0" cy="406.3" r="3.95" fill="#92c5de" fill-opacity="0.8" stroke-opacity="0.8"/>
<circle cx="382.3" cy="412.0" r="3.95" fill="#92c5de" fill-opacity="0.8" stroke-opacity="0.8"/>
<circle cx="373.8" cy="421.8" r="3.95" fill="#92c5de" fill-opacity="0.8" stroke-opacity="0.8"/>
<circle cx="378.1" cy="425.7" r="3.95" fill="#92c5de" fill-opacity="0.8" stroke-opacity="0.8"/>
<circle cx="394.4" cy="418.3" r="3.95" fill="#92c5de" fill-opacity="0.8" stroke-opacity="0.8"/>
<circle cx="399.3" cy="415.9" r="3.95" fill="#92c5de" fill-opacity="0.8" stroke-opacity="0.8"/>
<circle cx="410.1" cy="395.5" r="3.95" fill="#92c5de" fill-opacity="0.8" stroke-opacity="0.8"/>
<circle cx="416.4" cy="399.3" r="3.95" fill="#92c5de" fill-opacity="0.8" stroke-opacity="0.8"/>
<circle cx="445.7" cy="423.6" r="3.95" fill="#92c5de" fill-opacity="0.8" stroke-opacity="0.8"/>
<circle cx="433.6" cy="441.4" r="3.95" fill="#92c5de" fill-opacity="0.8" stroke-opacity="0.8"/>
<circle cx="417.3" cy="456.7" r="3.95" fill="#92c5de" fill-opacity="0.8" stroke-opacity="0.8"/>
<circle cx="427.5" cy="455.5" r="3.95" fill="#92c5de" fill-opacity="0.8" stroke-opacity="0.8"/>
<circle cx="433.0" cy="456.7" r="3.95" fill="#92c5de" fill-opacity="0.8" stroke-opacity="0.8"/>
<circle cx="417.5" cy="479.2" r="3.95" fill="#92c5de" fill-opacity="0.8" stroke-opacity="0.8"/>
<circle cx="449.1" cy="486.3" r="3.95" fill="#92c5de" fill-opacity="0.8" stroke-opacity="0.8"/>
<circle cx="464.0" cy="503.9" r="3.95" fill="#92c5de" fill-opacity="0.8" stroke-opacity="0.8"/>
<circle cx="501.4" cy="507.4" r="3.95" fill="#92c5de" fill-opacity="0.8" stroke-opacity="0.8"/>
<circle cx="408.5" cy="523.6" r="3.95" fill="#92c5de" fill-opacity="0.8" stroke-opacity="0.8"/>
<circle cx="515.7" cy="523.6" r="3.95" fill="#92c5de" fill-opacity="0.8" stroke-opacity="0.8"/>
<circle cx="490.2" cy="570.2" r="3.95" fill="#92c5de" fill-opacity="0.8" stroke-opacity="0.8"/>
<circle cx="691.0" cy="610.9" r="3.95" fill="#92c5de" fill-opacity="0.8" stroke-opacity="0.8"/>
</g>
<path d="M81.5 611.5v5M152.5 611.5v5M223.5 611.5v5M294.5 611.5v5M365.5 611.5v5M436.5 611.5v5M507.5 611.5v5M577.5 611.5v5M648.5 611.5v5M38.5 611.5h-5M38.5 568.5h-5M38.5 526.5h-5M38.5 483.5h-5M38.5 441.5h-5M38.5 398.5h-5M38.5 356.5h-5M38.5 313.5h-5M38.5 271.5h-5M38.5 228.5h-5M38.5 186.5h-5M38.5 143.5h-5M38.5 101.5h-5M38.5 58.5h-5M38.5 16.5h-5M38.5 11.5V612.0" stroke="#888" stroke-width="1" fill="none"/>
<text transform="matrix(1 0 0.001 1 -0.6271 0)" x="81.5" y="627.1" text-anchor="middle" font-size="10">-4</text>
<text transform="matrix(1 0 0.001 1 -0.6271 0)" x="152.5" y="627.1" text-anchor="middle" font-size="10">-3</text>
<text transform="matrix(1 0 0.001 1 -0.6271 0)" x="223.5" y="627.1" text-anchor="middle" font-size="10">-2</text>
<text transform="matrix(1 0 0.001 1 -0.6271 0)" x="294.5" y="627.1" text-anchor="middle" font-size="10">-1</text>
<text transform="matrix(1 0 0.001 1 -0.6271 0)" x="365.5" y="627.1" text-anchor="middle" font-size="10">0</text>
<text transform="matrix(1 0 0.001 1 -0.6271 0)" x="436.5" y="627.1" text-anchor="middle" font-size="10">1</text>
<text transform="matrix(1 0 0.001 1 -0.6271 0)" x="507.5" y="627.1" text-anchor="middle" font-size="10">2</text>
<text transform="matrix(1 0 0.001 1 -0.6271 0)" x="577.5" y="627.1" text-anchor="middle" font-size="10">3</text>
<text transform="matrix(1 0 0.001 1 -0.6271 0)" x="648.5" y="627.1" text-anchor="middle" font-size="10">4</text>
<text transform="matrix(1 0 0.001 1 -0.6151 0)" x="31.5" y="615.1" text-anchor="end" font-size="10">0</text>
<text transform="matrix(1 0 0.001 1 -0.5721 0)" x="31.5" y="572.1" text-anchor="end" font-size="10">1</text>
<text transform="matrix(1 0 0.001 1 -0.5301 0)" x="31.5" y="530.1" text-anchor="end" font-size="10">2</text>
<text transform="matrix(1 0 0.001 1 -0.4871 0)" x="31.5" y="487.1" text-anchor="end" font-size="10">3</text>
<text transform="matrix(1 0 0.001 1 -0.4451 0)" x="31.5" y="445.1" text-anchor="end" font-size="10">4</text>
<text transform="matrix(1 0 0.001 1 -0.4021 0)" x="31.5" y="402.1" text-anchor="end" font-size="10">5</text>
<text transform="matrix(1 0 0.001 1 -0.3601 0)" x="31.5" y="360.1" text-anchor="end" font-size="10">6</text>
<text transform="matrix(1 0 0.001 1 -0.3171 0)" x="31.5" y="317.1" text-anchor="end" font-size="10">7</text>
<text transform="matrix(1 0 0.001 1 -0.2751 0)" x="31.5" y="275.1" text-anchor="end" font-size="10">8</text>
<text transform="matrix(1 0 0.001 1 -0.2321 0)" x="31.5" y="232.1" text-anchor="end" font-size="10">9</text>
<text transform="matrix(1 0 0.001 1 -0.1901 0)" x="31.5" y="190.1" text-anchor="end" font-size="10">10</text>
<text transform="matrix(1 0 0.001 1 -0.1471 0)" x="31.5" y="147.1" text-anchor="end" font-size="10">11</text>
<text transform="matrix(1 0 0.001 1 -0.1051 0)" x="31.5" y="105.1" text-anchor="end" font-size="10">12</text>
<text transform="matrix(1 0 0.001 1 -0.0621 0)" x="31.5" y="62.1" text-anchor="end" font-size="10">13</text>
<text transform="matrix(1 0 0.001 1 -0.0201 0)" x="31.5" y="20.1" text-anchor="end" font-size="10">14</text>
<text transform="matrix(1 0 0.001 1 -0.6428 0)" x="312.5" y="642.8" textLength="104.4" lengthAdjust="spacing" font-size="11" font-weight="bold">log2-FC in Dataset 1</text>
<text transform="translate(13.0,377.0) rotate(-90)" textLength="129.6" lengthAdjust="spacing" font-size="11" font-weight="bold">log2(1+CPM) in Dataset 1</text>
<text transform="matrix(1 0 0.001 1 -0.0200 0)" x="709.3" y="20" font-size="11" font-weight="bold">FDR &lt; 0.05</text>
<circle cx="714.1" cy="32" r="4.6" fill="#ca0020" stroke="#ca0020" stroke-width="0.6"/>
<text transform="matrix(1 0 0.001 1 -0.0353 0)" x="727.5" y="35.3" font-size="10">Sig Down</text>
<circle cx="714.1" cy="47" r="4.6" fill="#f4a582" stroke="#f4a582" stroke-width="0.6"/>
<text transform="matrix(1 0 0.001 1 -0.0503 0)" x="727.5" y="50.3" font-size="10">Down</text>
<circle cx="714.1" cy="62" r="4.6" fill="#92c5de" stroke="#92c5de" stroke-width="0.6"/>
<text transform="matrix(1 0 0.001 1 -0.0653 0)" x="727.5" y="65.3" font-size="10">Up</text>
<circle cx="714.1" cy="77" r="4.6" fill="#0571b0" stroke="#0571b0" stroke-width="0.6"/>
<text transform="matrix(1 0 0.001 1 -0.0803 0)" x="727.5" y="80.3" font-size="10">Sig Up</text>
<circle cx="714.1" cy="92" r="4.6" fill="#808080" stroke="#808080" stroke-width="0.6"/>
<text transform="matrix(1 0 0.001 1 -0.0953 0)" x="727.5" y="95.3" font-size="10">None</text>
<path d="M845.5 11.5V611.5M899.5 11.5V611.5M953.5 11.5V611.5M1008.5 11.5V611.5M1062.5 11.5V611.5M1116.5 11.5V611.5M1171.5 11.5V611.5M1225.5 11.5V611.5M1279.5 11.5V611.5M1334.5 11.5V611.5M1388.5 11.5V611.5M1442.5 11.5V611.5M831.5 611.5H1484.5M831.5 568.5H1484.5M831.5 526.5H1484.5M831.5 483.5H1484.5M831.5 440.5H1484.5M831.5 397.5H1484.5M831.5 355.5H1484.5M831.5 312.5H1484.5M831.5 269.5H1484.5M831.5 226.5H1484.5M831.5 184.5H1484.5M831.5 141.5H1484.5M831.5 98.5H1484.5M831.5 55.5H1484.5M831.5 13.5H1484.5" stroke="#ddd" stroke-width="1" fill="none"/>
<g stroke="#1f77b4" stroke-width="1">
<circle opacity="0.2" stroke="#2a7fc0" cx="1254.3" cy="10.8" r="3.95" fill="#0571b0"/>
<circle opacity="0.2" stroke="#2a7fc0" cx="1236.7" cy="23.8" r="3.95" fill="#92c5de"/>
<circle opacity="0.2" stroke="#2a7fc0" cx="1224.5" cy="38.7" r="3.95" fill="#f4a582"/>
<circle opacity="0.2" stroke="#2a7fc0" cx="1215.5" cy="55.7" r="3.95" fill="#f4a582"/>
<circle opacity="0.2" stroke="#2a7fc0" cx="1245.3" cy="59.8" r="3.95" fill="#0571b0"/>
<circle opacity="0.2" stroke="#2a7fc0" cx="1236.7" cy="82.4" r="3.95" fill="#92c5de"/>
<circle opacity="0.2" stroke="#2a7fc0" cx="1222.0" cy="89.2" r="3.95" fill="#f4a582"/>
<circle opacity="0.2" stroke="#2a7fc0" cx="1223.2" cy="101.6" r="3.95" fill="#f4a582"/>
<circle opacity="0.2" stroke="#2a7fc0" cx="1220.8" cy="107.0" r="3.95" fill="#f4a582"/>
<circle opacity="0.2" stroke="#2a7fc0" cx="1232.4" cy="107.2" r="3.95" fill="#92c5de"/>
<circle opacity="0.2" stroke="#2a7fc0" cx="1210.6" cy="111.9" r="3.95" fill="#f4a582"/>
<circle opacity="0.2" stroke="#2a7fc0" cx="1220.2" cy="121.4" r="3.95" fill="#f4a582"/>
<circle opacity="0.2" stroke="#2a7fc0" cx="1203.6" cy="124.3" r="3.95" fill="#f4a582"/>
<circle opacity="0.2" stroke="#2a7fc0" cx="1206.5" cy="125.1" r="3.95" fill="#f4a582"/>
<circle opacity="0.2" stroke="#2a7fc0" cx="1240.8" cy="124.1" r="3.95" fill="#92c5de"/>
<circle opacity="0.2" stroke="#2a7fc0" cx="1223.4" cy="128.8" r="3.95" fill="#f4a582"/>
<circle opacity="0.2" stroke="#2a7fc0" cx="1333.6" cy="251.9" r="3.95" fill="#0571b0"/>
<circle opacity="0.2" stroke="#2a7fc0" cx="1226.8" cy="136.8" r="3.95" fill="#92c5de"/>
<circle opacity="0.2" stroke="#2a7fc0" cx="1246.8" cy="139.9" r="3.95" fill="#0571b0"/>
<circle opacity="0.2" stroke="#2a7fc0" cx="1252.9" cy="146.5" r="3.95" fill="#0571b0"/>
<circle opacity="0.2" stroke="#2a7fc0" cx="1245.7" cy="148.7" r="3.95" fill="#92c5de"/>
<circle opacity="0.2" stroke="#2a7fc0" cx="1286.1" cy="143.4" r="3.95" fill="#0571b0"/>
<circle opacity="0.2" stroke="#2a7fc0" cx="1209.7" cy="146.5" r="3.95" fill="#f4a582"/>
<circle opacity="0.2" stroke="#2a7fc0" cx="1216.3" cy="144.2" r="3.95" fill="#f4a582"/>
<circle opacity="0.2" stroke="#2a7fc0" cx="1221.9" cy="151.6" r="3.95" fill="#f4a582"/>
<circle opacity="0.2" stroke="#2a7fc0" cx="1211.2" cy="157.5" r="3.95" fill="#f4a582"/>
<circle opacity="0.2" stroke="#2a7fc0" cx="1207.9" cy="166.1" r="3.95" fill="#f4a582"/>
<circle opacity="0.2" stroke="#2a7fc0" cx="1231.6" cy="161.1" r="3.95" fill="#92c5de"/>
<circle opacity="0.2" stroke="#2a7fc0" cx="1231.4" cy="164.9" r="3.95" fill="#92c5de"/>
<circle opacity="0.2" stroke="#2a7fc0" cx="1254.4" cy="170.0" r="3.95" fill="#0571b0"/>
<circle opacity="0.2" stroke="#2a7fc0" cx="1234.8" cy="174.6" r="3.95" fill="#92c5de"/>
<circle opacity="0.2" stroke="#2a7fc0" cx="1248.3" cy="178.0" r="3.95" fill="#0571b0"/>
<circle opacity="0.2" stroke="#2a7fc0" cx="1262.8" cy="180.5" r="3.95" fill="#0571b0"/>
<circle opacity="0.2" stroke="#2a7fc0" cx="1271.3" cy="182.8" r="3.95" fill="#0571b0"/>
<circle opacity="0.2" stroke="#2a7fc0" cx="1275.4" cy="182.4" r="3.95" fill="#0571b0"/>
<circle opacity="0.2" stroke="#2a7fc0" cx="1294.5" cy="188.1" r="3.95" fill="#0571b0"/>
<circle opacity="0.2" stroke="#2a7fc0" cx="1254.9" cy="190.4" r="3.95" fill="#0571b0"/>
<circle opacity="0.2" stroke="#2a7fc0" cx="1228.9" cy="183.8" r="3.95" fill="#92c5de"/>
<circle opacity="0.2" stroke="#2a7fc0" cx="1220.2" cy="187.1" r="3.95" fill="#f4a582"/>
<circle opacity="0.2" stroke="#2a7fc0" cx="1199.3" cy="188.4" r="3.95" fill="#f4a582"/>
<circle opacity="0.2" stroke="#2a7fc0" cx="1206.9" cy="193.5" r="3.95" fill="#f4a582"/>
<circle opacity="0.2" stroke="#2a7fc0" cx="1213.8" cy="194.0" r="3.95" fill="#f4a582"/>
<circle opacity="0.2" stroke="#2a7fc0" cx="1216.6" cy="200.3" r="3.95" fill="#f4a582"/>
<circle opacity="0.2" stroke="#2a7fc0" cx="1203.9" cy="202.8" r="3.95" fill="#f4a582"/>
<circle opacity="0.2" stroke="#2a7fc0" cx="1202.3" cy="205.9" r="3.95" fill="#f4a582"/>
<circle opacity="0.2" stroke="#2a7fc0" cx="1205.4" cy="205.9" r="3.95" fill="#f4a582"/>
<circle opacity="0.2" stroke="#2a7fc0" cx="1211.5" cy="206.4" r="3.95" fill="#f4a582"/>
<circle opacity="0.2" stroke="#2a7fc0" cx="1214.6" cy="207.4" r="3.95" fill="#f4a582"/>
<circle opacity="0.2" stroke="#2a7fc0" cx="1196.2" cy="210.5" r="3.95" fill="#f4a582"/>
<circle opacity="0.2" stroke="#2a7fc0" cx="1205.4" cy="211.5" r="3.95" fill="#f4a582"/>
<circle opacity="0.2" stroke="#2a7fc0" cx="1214.6" cy="222.2" r="3.95" fill="#f4a582"/>
<circle opacity="0.2" stroke="#2a7fc0" cx="1211.5" cy="227.3" r="3.95" fill="#f4a582"/>
<circle opacity="0.2" stroke="#2a7fc0" cx="1200.8" cy="231.4" r="3.95" fill="#f4a582"/>
<circle opacity="0.2" stroke="#2a7fc0" cx="1207.4" cy="232.4" r="3.95" fill="#f4a582"/>
<circle opacity="0.2" stroke="#2a7fc0" cx="1209.0" cy="234.5" r="3.95" fill="#f4a582"/>
<circle opacity="0.2" stroke="#2a7fc0" cx="1216.6" cy="232.7" r="3.95" fill="#f4a582"/>
<circle opacity="0.2" stroke="#2a7fc0" cx="1216.8" cy="232.9" r="3.95" fill="#f4a582"/>
<circle opacity="0.2" stroke="#2a7fc0" cx="1219.7" cy="238.1" r="3.95" fill="#f4a582"/>
<circle opacity="0.2" stroke="#2a7fc0" cx="1225.3" cy="237.5" r="3.95" fill="#f4a582"/>
<circle opacity="0.2" stroke="#2a7fc0" cx="1225.6" cy="237.8" r="3.95" fill="#92c5de"/>
<circle opacity="0.2" stroke="#2a7fc0" cx="1191.6" cy="232.4" r="3.95" fill="#f4a582"/>
<circle opacity="0.2" stroke="#2a7fc0" cx="1191.1" cy="239.6" r="3.95" fill="#f4a582"/>
<circle opacity="0.2" stroke="#2a7fc0" cx="1209.5" cy="241.1" r="3.95" fill="#f4a582"/>
<circle opacity="0.2" stroke="#2a7fc0" cx="1222.2" cy="245.7" r="3.95" fill="#f4a582"/>
<circle opacity="0.2" stroke="#2a7fc0" cx="1193.6" cy="246.2" r="3.95" fill="#f4a582"/>
<circle opacity="0.2" stroke="#2a7fc0" cx="1196.2" cy="245.2" r="3.95" fill="#f4a582"/>
<circle opacity="0.2" stroke="#2a7fc0" cx="1202.8" cy="246.7" r="3.95" fill="#f4a582"/>
<circle opacity="0.2" stroke="#2a7fc0" cx="1190.1" cy="254.9" r="3.95" fill="#f4a582"/>
<circle opacity="0.2" stroke="#2a7fc0" cx="1195.2" cy="254.4" r="3.95" fill="#f4a582"/>
<circle opacity="0.2" stroke="#2a7fc0" cx="1199.8" cy="253.9" r="3.95" fill="#f4a582"/>
<circle opacity="0.2" stroke="#2a7fc0" cx="1228.9" cy="199.7" r="3.95" fill="#92c5de"/>
<circle opacity="0.2" stroke="#2a7fc0" cx="1229.9" cy="211.0" r="3.95" fill="#92c5de"/>
<circle opacity="0.2" stroke="#2a7fc0" cx="1228.2" cy="217.1" r="3.95" fill="#92c5de"/>
<circle opacity="0.2" stroke="#2a7fc0" cx="1234.0" cy="222.2" r="3.95" fill="#92c5de"/>
<circle opacity="0.2" stroke="#2a7fc0" cx="1232.7" cy="224.8" r="3.95" fill="#92c5de"/>
<circle opacity="0.2" stroke="#2a7fc0" cx="1242.7" cy="225.3" r="3.95" fill="#92c5de"/>
<circle opacity="0.2" stroke="#2a7fc0" cx="1251.7" cy="210.7" r="3.95" fill="#92c5de"/>
<circle opacity="0.2" stroke="#2a7fc0" cx="1254.9" cy="242.6" r="3.95" fill="#92c5de"/>
<circle opacity="0.2" stroke="#2a7fc0" cx="1250.1" cy="249.5" r="3.95" fill="#92c5de"/>
<circle opacity="0.2" stroke="#2a7fc0" cx="1229.9" cy="254.4" r="3.95" fill="#92c5de"/>
<circle opacity="0.2" stroke="#2a7fc0" cx="1233.8" cy="254.4" r="3.95" fill="#92c5de"/>
<circle opacity="0.2" stroke="#2a7fc0" cx="1244.7" cy="259.0" r="3.95" fill="#92c5de"/>
<circle opacity="0.2" stroke="#2a7fc0" cx="1269.2" cy="201.8" r="3.95" fill="#0571b0"/>
<circle opacity="0.2" stroke="#2a7fc0" cx="1270.2" cy="212.5" r="3.95" fill="#0571b0"/>
<circle opacity="0.2" stroke="#2a7fc0" cx="1265.7" cy="214.6" r="3.95" fill="#0571b0"/>
<circle opacity="0.2" stroke="#2a7fc0" cx="1258.0" cy="217.6" r="3.95" fill="#0571b0"/>
<circle opacity="0.2" stroke="#2a7fc0" cx="1255.9" cy="219.2" r="3.95" fill="#0571b0"/>
<circle opacity="0.2" stroke="#2a7fc0" cx="1260.7" cy="224.3" r="3.95" fill="#0571b0"/>
<circle opacity="0.2" stroke="#2a7fc0" cx="1264.6" cy="229.9" r="3.95" fill="#0571b0"/>
<circle opacity="0.2" stroke="#2a7fc0" cx="1262.6" cy="232.4" r="3.95" fill="#0571b0"/>
<circle opacity="0.2" stroke="#2a7fc0" cx="1267.7" cy="231.9" r="3.95" fill="#0571b0"/>
<circle opacity="0.2" stroke="#2a7fc0" cx="1285.3" cy="239.6" r="3.95" fill="#0571b0"/>
<circle opacity="0.2" stroke="#2a7fc0" cx="1269.5" cy="243.4" r="3.95" fill="#0571b0"/>
<circle opacity="0.2" stroke="#2a7fc0" cx="1282.3" cy="254.4" r="3.95" fill="#0571b0"/>
<circle opacity="0.2" stroke="#2a7fc0" cx="1269.4" cy="254.9" r="3.95" fill="#0571b0"/>
<circle opacity="0.2" stroke="#2a7fc0" cx="1261.8" cy="256.9" r="3.95" fill="#0571b0"/>
<circle opacity="0.2" stroke="#2a7fc0" cx="954.0" cy="372.5" r="3.95" fill="#f4a582"/>
<circle opacity="0.2" stroke="#2a7fc0" cx="1104.1" cy="370.4" r="3.95" fill="#f4a582"/>
<circle opacity="0.2" stroke="#2a7fc0" cx="1200.1" cy="261.7" r="3.95" fill="#f4a582"/>
<circle opacity="0.2" stroke="#2a7fc0" cx="1203.2" cy="262.2" r="3.95" fill="#f4a582"/>
<circle opacity="0.2" stroke="#2a7fc0" cx="1208.3" cy="261.7" r="3.95" fill="#f4a582"/>
<circle opacity="0.2" stroke="#2a7fc0" cx="1211.9" cy="261.2" r="3.95" fill="#f4a582"/>
<circle opacity="0.2" stroke="#2a7fc0" cx="1206.2" cy="266.3" r="3.95" fill="#f4a582"/>
<circle opacity="0.2" stroke="#2a7fc0" cx="1213.4" cy="266.8" r="3.95" fill="#f4a582"/>
<circle opacity="0.2" stroke="#2a7fc0" cx="1217.0" cy="265.3" r="3.95" fill="#f4a582"/>
<circle opacity="0.2" stroke="#2a7fc0" cx="1187.9" cy="265.8" r="3.95" fill="#f4a582"/>
<circle opacity="0.2" stroke="#2a7fc0" cx="1187.3" cy="270.4" r="3.95" fill="#f4a582"/>
<circle opacity="0.2" stroke="#2a7fc0" cx="1187.3" cy="273.4" r="3.95" fill="#f4a582"/>
<circle opacity="0.2" stroke="#2a7fc0" cx="1196.5" cy="272.4" r="3.95" fill="#f4a582"/>
<circle opacity="0.2" stroke="#2a7fc0" cx="1207.3" cy="272.4" r="3.95" fill="#f4a582"/>
<circle opacity="0.2" stroke="#2a7fc0" cx="1211.9" cy="275.5" r="3.95" fill="#f4a582"/>
<circle opacity="0.2" stroke="#2a7fc0" cx="1214.4" cy="276.5" r="3.95" fill="#f4a582"/>
<circle opacity="0.2" stroke="#2a7fc0" cx="1216.5" cy="275.5" r="3.95" fill="#f4a582"/>
<circle opacity="0.2" stroke="#2a7fc0" cx="1213.4" cy="278.0" r="3.95" fill="#f4a582"/>
<circle opacity="0.2" stroke="#2a7fc0" cx="1209.8" cy="279.0" r="3.95" fill="#f4a582"/>
<circle opacity="0.2" stroke="#2a7fc0" cx="1221.1" cy="278.5" r="3.95" fill="#f4a582"/>
<circle opacity="0.2" stroke="#2a7fc0" cx="1213.4" cy="282.6" r="3.95" fill="#f4a582"/>
<circle opacity="0.2" stroke="#2a7fc0" cx="1223.6" cy="267.8" r="3.95" fill="#f4a582"/>
<circle opacity="0.2" stroke="#2a7fc0" cx="1197.6" cy="280.6" r="3.95" fill="#f4a582"/>
<circle opacity="0.2" stroke="#2a7fc0" cx="1191.9" cy="283.1" r="3.95" fill="#f4a582"/>
<circle opacity="0.2" stroke="#2a7fc0" cx="1193.0" cy="285.2" r="3.95" fill="#f4a582"/>
<circle opacity="0.2" stroke="#2a7fc0" cx="1194.0" cy="288.8" r="3.95" fill="#f4a582"/>
<circle opacity="0.2" stroke="#2a7fc0" cx="1182.2" cy="284.7" r="3.95" fill="#f4a582"/>
<circle opacity="0.2" stroke="#2a7fc0" cx="1204.4" cy="289.3" r="3.95" fill="#f4a582"/>
<circle opacity="0.2" stroke="#2a7fc0" cx="1204.6" cy="289.5" r="3.95" fill="#f4a582"/>
<circle opacity="0.2" stroke="#2a7fc0" cx="1187.3" cy="296.4" r="3.95" fill="#f4a582"/>
<circle opacity="0.2" stroke="#2a7fc0" cx="1177.1" cy="293.9" r="3.95" fill="#f4a582"/>
<circle opacity="0.2" stroke="#2a7fc0" cx="1174.6" cy="300.5" r="3.95" fill="#f4a582"/>
<circle opacity="0.2" stroke="#2a7fc0" cx="1177.6" cy="301.0" r="3.95" fill="#f4a582"/>
<circle opacity="0.2" stroke="#2a7fc0" cx="1173.0" cy="304.6" r="3.95" fill="#f4a582"/>
<circle opacity="0.2" stroke="#2a7fc0" cx="1196.0" cy="300.5" r="3.95" fill="#f4a582"/>
<circle opacity="0.2" stroke="#2a7fc0" cx="1195.5" cy="304.1" r="3.95" fill="#f4a582"/>
<circle opacity="0.2" stroke="#2a7fc0" cx="1194.5" cy="305.6" r="3.95" fill="#f4a582"/>
<circle opacity="0.2" stroke="#2a7fc0" cx="1201.1" cy="308.2" r="3.95" fill="#f4a582"/>
<circle opacity="0.2" stroke="#2a7fc0" cx="1207.8" cy="306.1" r="3.95" fill="#f4a582"/>
<circle opacity="0.2" stroke="#2a7fc0" cx="1210.3" cy="299.5" r="3.95" fill="#f4a582"/>
<circle opacity="0.2" stroke="#2a7fc0" cx="1218.5" cy="296.9" r="3.95" fill="#f4a582"/>
<circle opacity="0.2" stroke="#2a7fc0" cx="1221.1" cy="303.6" r="3.95" fill="#f4a582"/>
<circle opacity="0.2" stroke="#2a7fc0" cx="1221.6" cy="305.6" r="3.95" fill="#f4a582"/>
<circle opacity="0.2" stroke="#2a7fc0" cx="1220.5" cy="309.2" r="3.95" fill="#f4a582"/>
<circle opacity="0.2" stroke="#2a7fc0" cx="1222.6" cy="312.2" r="3.95" fill="#f4a582"/>
<circle opacity="0.2" stroke="#2a7fc0" cx="1189.4" cy="311.2" r="3.95" fill="#f4a582"/>
<circle opacity="0.2" stroke="#2a7fc0" cx="1187.3" cy="313.8" r="3.95" fill="#f4a582"/>
<circle opacity="0.2" stroke="#2a7fc0" cx="1186.3" cy="315.3" r="3.95" fill="#f4a582"/>
<circle opacity="0.2" stroke="#2a7fc0" cx="1208.3" cy="316.8" r="3.95" fill="#f4a582"/>
<circle opacity="0.2" stroke="#2a7fc0" cx="1213.4" cy="317.4" r="3.95" fill="#f4a582"/>
<circle opacity="0.2" stroke="#2a7fc0" cx="1217.5" cy="318.9" r="3.95" fill="#f4a582"/>
<circle opacity="0.2" stroke="#2a7fc0" cx="1216.5" cy="322.5" r="3.95" fill="#f4a582"/>
<circle opacity="0.2" stroke="#2a7fc0" cx="1197.1" cy="321.4" r="3.95" fill="#f4a582"/>
<circle opacity="0.2" stroke="#2a7fc0" cx="1176.6" cy="320.9" r="3.95" fill="#f4a582"/>
<circle opacity="0.2" stroke="#2a7fc0" cx="1180.7" cy="322.5" r="3.95" fill="#f4a582"/>
<circle opacity="0.2" stroke="#2a7fc0" cx="1166.9" cy="324.5" r="3.95" fill="#f4a582"/>
<circle opacity="0.2" stroke="#2a7fc0" cx="1207.3" cy="323.0" r="3.95" fill="#f4a582"/>
<circle opacity="0.2" stroke="#2a7fc0" cx="1225.7" cy="319.9" r="3.95" fill="#f4a582"/>
<circle opacity="0.2" stroke="#2a7fc0" cx="1226.2" cy="266.8" r="3.95" fill="#92c5de"/>
<circle opacity="0.2" stroke="#2a7fc0" cx="1230.2" cy="270.4" r="3.95" fill="#92c5de"/>
<circle opacity="0.2" stroke="#2a7fc0" cx="1228.7" cy="276.5" r="3.95" fill="#92c5de"/>
<circle opacity="0.2" stroke="#2a7fc0" cx="1230.2" cy="280.6" r="3.95" fill="#92c5de"/>
<circle opacity="0.2" stroke="#2a7fc0" cx="1228.7" cy="284.2" r="3.95" fill="#92c5de"/>
<circle opacity="0.2" stroke="#2a7fc0" cx="1230.2" cy="286.7" r="3.95" fill="#92c5de"/>
<circle opacity="0.2" stroke="#2a7fc0" cx="1235.4" cy="279.6" r="3.95" fill="#92c5de"/>
<circle opacity="0.2" stroke="#2a7fc0" cx="1237.4" cy="264.2" r="3.95" fill="#92c5de"/>
<circle opacity="0.2" stroke="#2a7fc0" cx="1244.0" cy="262.7" r="3.95" fill="#92c5de"/>
<circle opacity="0.2" stroke="#2a7fc0" cx="1245.1" cy="266.3" r="3.95" fill="#92c5de"/>
<circle opacity="0.2" stroke="#2a7fc0" cx="1239.4" cy="273.4" r="3.95" fill="#92c5de"/>
<circle opacity="0.2" stroke="#2a7fc0" cx="1236.9" cy="290.3" r="3.95" fill="#92c5de"/>
<circle opacity="0.2" stroke="#2a7fc0" cx="1242.0" cy="288.2" r="3.95" fill="#92c5de"/>
<circle opacity="0.2" stroke="#2a7fc0" cx="1232.3" cy="316.3" r="3.95" fill="#92c5de"/>
<circle opacity="0.2" stroke="#2a7fc0" cx="1226.7" cy="317.4" r="3.95" fill="#92c5de"/>
<circle opacity="0.2" stroke="#2a7fc0" cx="1225.7" cy="323.5" r="3.95" fill="#92c5de"/>
<circle opacity="0.2" stroke="#2a7fc0" cx="1185.3" cy="329.2" r="3.95" fill="#f4a582"/>
<circle opacity="0.2" stroke="#2a7fc0" cx="1210.8" cy="331.3" r="3.95" fill="#f4a582"/>
<circle opacity="0.2" stroke="#2a7fc0" cx="1216.5" cy="326.7" r="3.95" fill="#f4a582"/>
<circle opacity="0.2" stroke="#2a7fc0" cx="1224.1" cy="332.3" r="3.95" fill="#f4a582"/>
<circle opacity="0.2" stroke="#2a7fc0" cx="1188.9" cy="335.4" r="3.95" fill="#f4a582"/>
<circle opacity="0.2" stroke="#2a7fc0" cx="1193.5" cy="335.4" r="3.95" fill="#f4a582"/>
<circle opacity="0.2" stroke="#2a7fc0" cx="1202.7" cy="335.4" r="3.95" fill="#f4a582"/>
<circle opacity="0.2" stroke="#2a7fc0" cx="1202.9" cy="335.6" r="3.95" fill="#f4a582"/>
<circle opacity="0.2" stroke="#2a7fc0" cx="1209.8" cy="336.9" r="3.95" fill="#f4a582"/>
<circle opacity="0.2" stroke="#2a7fc0" cx="1175.6" cy="337.4" r="3.95" fill="#f4a582"/>
<circle opacity="0.2" stroke="#2a7fc0" cx="1178.7" cy="340.0" r="3.95" fill="#f4a582"/>
<circle opacity="0.2" stroke="#2a7fc0" cx="1181.7" cy="338.4" r="3.95" fill="#f4a582"/>
<circle opacity="0.2" stroke="#2a7fc0" cx="1170.0" cy="342.0" r="3.95" fill="#f4a582"/>
<circle opacity="0.2" stroke="#2a7fc0" cx="1172.0" cy="346.1" r="3.95" fill="#f4a582"/>
<circle opacity="0.2" stroke="#2a7fc0" cx="1186.3" cy="342.0" r="3.95" fill="#f4a582"/>
<circle opacity="0.2" stroke="#2a7fc0" cx="1184.8" cy="344.0" r="3.95" fill="#f4a582"/>
<circle opacity="0.2" stroke="#2a7fc0" cx="1183.8" cy="346.1" r="3.95" fill="#f4a582"/>
<circle opacity="0.2" stroke="#2a7fc0" cx="1218.5" cy="338.4" r="3.95" fill="#f4a582"/>
<circle opacity="0.2" stroke="#2a7fc0" cx="1220.0" cy="340.5" r="3.95" fill="#f4a582"/>
<circle opacity="0.2" stroke="#2a7fc0" cx="1224.6" cy="340.5" r="3.95" fill="#f4a582"/>
<circle opacity="0.2" stroke="#2a7fc0" cx="1203.2" cy="348.1" r="3.95" fill="#f4a582"/>
<circle opacity="0.2" stroke="#2a7fc0" cx="1198.1" cy="352.7" r="3.95" fill="#f4a582"/>
<circle opacity="0.2" stroke="#2a7fc0" cx="1205.7" cy="353.8" r="3.95" fill="#f4a582"/>
<circle opacity="0.2" stroke="#2a7fc0" cx="1182.2" cy="354.3" r="3.95" fill="#f4a582"/>
<circle opacity="0.2" stroke="#2a7fc0" cx="1197.1" cy="356.8" r="3.95" fill="#f4a582"/>
<circle opacity="0.2" stroke="#2a7fc0" cx="1196.0" cy="359.9" r="3.95" fill="#f4a582"/>
<circle opacity="0.2" stroke="#2a7fc0" cx="1193.0" cy="361.4" r="3.95" fill="#f4a582"/>
<circle opacity="0.2" stroke="#2a7fc0" cx="1189.9" cy="362.9" r="3.95" fill="#f4a582"/>
<circle opacity="0.2" stroke="#2a7fc0" cx="1213.4" cy="356.3" r="3.95" fill="#f4a582"/>
<circle opacity="0.2" stroke="#2a7fc0" cx="1218.5" cy="355.3" r="3.95" fill="#f4a582"/>
<circle opacity="0.2" stroke="#2a7fc0" cx="1223.1" cy="361.9" r="3.95" fill="#f4a582"/>
<circle opacity="0.2" stroke="#2a7fc0" cx="1224.1" cy="363.5" r="3.95" fill="#f4a582"/>
<circle opacity="0.2" stroke="#2a7fc0" cx="1166.6" cy="361.7" r="3.95" fill="#f4a582"/>
<circle opacity="0.2" stroke="#2a7fc0" cx="1178.2" cy="367.0" r="3.95" fill="#f4a582"/>
<circle opacity="0.2" stroke="#2a7fc0" cx="1179.7" cy="371.6" r="3.95" fill="#f4a582"/>
<circle opacity="0.2" stroke="#2a7fc0" cx="1186.8" cy="368.1" r="3.95" fill="#f4a582"/>
<circle opacity="0.2" stroke="#2a7fc0" cx="1201.3" cy="373.4" r="3.95" fill="#f4a582"/>
<circle opacity="0.2" stroke="#2a7fc0" cx="1201.5" cy="373.6" r="3.95" fill="#f4a582"/>
<circle opacity="0.2" stroke="#2a7fc0" cx="1212.2" cy="372.3" r="3.95" fill="#f4a582"/>
<circle opacity="0.2" stroke="#2a7fc0" cx="1204.7" cy="384.4" r="3.95" fill="#f4a582"/>
<circle opacity="0.2" stroke="#2a7fc0" cx="1221.6" cy="381.8" r="3.95" fill="#f4a582"/>
<circle opacity="0.2" stroke="#2a7fc0" cx="1218.5" cy="389.0" r="3.95" fill="#f4a582"/>
<circle opacity="0.2" stroke="#2a7fc0" cx="1137.6" cy="388.0" r="3.95" fill="#f4a582"/>
<circle opacity="0.2" stroke="#2a7fc0" cx="1226.7" cy="345.1" r="3.95" fill="#92c5de"/>
<circle opacity="0.2" stroke="#2a7fc0" cx="1228.7" cy="353.8" r="3.95" fill="#92c5de"/>
<circle opacity="0.2" stroke="#2a7fc0" cx="1231.8" cy="355.3" r="3.95" fill="#92c5de"/>
<circle opacity="0.2" stroke="#2a7fc0" cx="1234.3" cy="359.9" r="3.95" fill="#92c5de"/>
<circle opacity="0.2" stroke="#2a7fc0" cx="1226.2" cy="357.8" r="3.95" fill="#92c5de"/>
<circle opacity="0.2" stroke="#2a7fc0" cx="1238.9" cy="343.5" r="3.95" fill="#92c5de"/>
<circle opacity="0.2" stroke="#2a7fc0" cx="1246.1" cy="340.5" r="3.95" fill="#92c5de"/>
<circle opacity="0.2" stroke="#2a7fc0" cx="1243.0" cy="331.3" r="3.95" fill="#92c5de"/>
<circle opacity="0.2" stroke="#2a7fc0" cx="1243.0" cy="334.3" r="3.95" fill="#92c5de"/>
<circle opacity="0.2" stroke="#2a7fc0" cx="1240.5" cy="353.8" r="3.95" fill="#92c5de"/>
<circle opacity="0.2" stroke="#2a7fc0" cx="1245.1" cy="355.3" r="3.95" fill="#92c5de"/>
<circle opacity="0.2" stroke="#2a7fc0" cx="1247.1" cy="351.7" r="3.95" fill="#92c5de"/>
<circle opacity="0.2" stroke="#2a7fc0" cx="1247.6" cy="368.9" r="3.95" fill="#92c5de"/>
<circle opacity="0.2" stroke="#2a7fc0" cx="1243.5" cy="380.3" r="3.95" fill="#92c5de"/>
<circle opacity="0.2" stroke="#2a7fc0" cx="1240.0" cy="386.9" r="3.95" fill="#92c5de"/>
<circle opacity="0.2" stroke="#2a7fc0" cx="1240.2" cy="387.2" r="3.95" fill="#92c5de"/>
<circle opacity="0.2" stroke="#2a7fc0" cx="1274.2" cy="262.7" r="3.95" fill="#0571b0"/>
<circle opacity="0.2" stroke="#2a7fc0" cx="1272.2" cy="268.8" r="3.95" fill="#0571b0"/>
<circle opacity="0.2" stroke="#2a7fc0" cx="1276.8" cy="272.4" r="3.95" fill="#0571b0"/>
<circle opacity="0.2" stroke="#2a7fc0" cx="1285.0" cy="269.3" r="3.95" fill="#0571b0"/>
<circle opacity="0.2" stroke="#2a7fc0" cx="1268.1" cy="274.5" r="3.95" fill="#0571b0"/>
<circle opacity="0.2" stroke="#2a7fc0" cx="1266.6" cy="278.0" r="3.95" fill="#0571b0"/>
<circle opacity="0.2" stroke="#2a7fc0" cx="1271.7" cy="279.0" r="3.95" fill="#0571b0"/>
<circle opacity="0.2" stroke="#2a7fc0" cx="1273.2" cy="280.6" r="3.95" fill="#0571b0"/>
<circle opacity="0.2" stroke="#2a7fc0" cx="1278.3" cy="284.2" r="3.95" fill="#0571b0"/>
<circle opacity="0.2" stroke="#2a7fc0" cx="1289.4" cy="288.8" r="3.95" fill="#0571b0"/>
<circle opacity="0.2" stroke="#2a7fc0" cx="1269.1" cy="290.8" r="3.95" fill="#0571b0"/>
<circle opacity="0.2" stroke="#2a7fc0" cx="1270.7" cy="297.4" r="3.95" fill="#0571b0"/>
<circle opacity="0.2" stroke="#2a7fc0" cx="1277.8" cy="295.4" r="3.95" fill="#0571b0"/>
<circle opacity="0.2" stroke="#2a7fc0" cx="1278.3" cy="298.5" r="3.95" fill="#0571b0"/>
<circle opacity="0.2" stroke="#2a7fc0" cx="1279.9" cy="301.5" r="3.95" fill="#0571b0"/>
<circle opacity="0.2" stroke="#2a7fc0" cx="1283.4" cy="304.1" r="3.95" fill="#0571b0"/>
<circle opacity="0.2" stroke="#2a7fc0" cx="1287.0" cy="304.3" r="3.95" fill="#0571b0"/>
<circle opacity="0.2" stroke="#2a7fc0" cx="1271.7" cy="305.1" r="3.95" fill="#0571b0"/>
<circle opacity="0.2" stroke="#2a7fc0" cx="1275.8" cy="308.2" r="3.95" fill="#0571b0"/>
<circle opacity="0.2" stroke="#2a7fc0" cx="1319.9" cy="300.0" r="3.95" fill="#0571b0"/>
<circle opacity="0.2" stroke="#2a7fc0" cx="1351.6" cy="295.4" r="3.95" fill="#0571b0"/>
<circle opacity="0.2" stroke="#2a7fc0" cx="1293.1" cy="319.4" r="3.95" fill="#0571b0"/>
<circle opacity="0.2" stroke="#2a7fc0" cx="1300.8" cy="321.4" r="3.95" fill="#0571b0"/>
<circle opacity="0.2" stroke="#2a7fc0" cx="1305.4" cy="323.0" r="3.95" fill="#0571b0"/>
<circle opacity="0.2" stroke="#2a7fc0" cx="1318.7" cy="324.0" r="3.95" fill="#0571b0"/>
<circle opacity="0.2" stroke="#2a7fc0" cx="1252.8" cy="275.5" r="3.95" fill="#92c5de"/>
<circle opacity="0.2" stroke="#2a7fc0" cx="1255.3" cy="289.3" r="3.95" fill="#92c5de"/>
<circle opacity="0.2" stroke="#2a7fc0" cx="1254.8" cy="291.3" r="3.95" fill="#92c5de"/>
<circle opacity="0.2" stroke="#2a7fc0" cx="1261.5" cy="299.5" r="3.95" fill="#92c5de"/>
<circle opacity="0.2" stroke="#2a7fc0" cx="1253.3" cy="302.5" r="3.95" fill="#92c5de"/>
<circle opacity="0.2" stroke="#2a7fc0" cx="1257.4" cy="305.6" r="3.95" fill="#92c5de"/>
<circle opacity="0.2" stroke="#2a7fc0" cx="1252.3" cy="311.2" r="3.95" fill="#92c5de"/>
<circle opacity="0.2" stroke="#2a7fc0" cx="1257.4" cy="315.3" r="3.95" fill="#92c5de"/>
<circle opacity="0.2" stroke="#2a7fc0" cx="1264.3" cy="322.5" r="3.95" fill="#92c5de"/>
<circle opacity="0.2" stroke="#2a7fc0" cx="1255.3" cy="325.0" r="3.95" fill="#92c5de"/>
<circle opacity="0.2" stroke="#2a7fc0" cx="1251.2" cy="323.5" r="3.95" fill="#92c5de"/>
<circle opacity="0.2" stroke="#2a7fc0" cx="1286.8" cy="325.7" r="3.95" fill="#0571b0"/>
<circle opacity="0.2" stroke="#2a7fc0" cx="1311.2" cy="327.7" r="3.95" fill="#0571b0"/>
<circle opacity="0.2" stroke="#2a7fc0" cx="1299.8" cy="333.0" r="3.95" fill="#0571b0"/>
<circle opacity="0.2" stroke="#2a7fc0" cx="1342.9" cy="336.6" r="3.95" fill="#0571b0"/>
<circle opacity="0.2" stroke="#2a7fc0" cx="1291.1" cy="342.5" r="3.95" fill="#0571b0"/>
<circle opacity="0.2" stroke="#2a7fc0" cx="1287.0" cy="346.6" r="3.95" fill="#0571b0"/>
<circle opacity="0.2" stroke="#2a7fc0" cx="1290.6" cy="346.1" r="3.95" fill="#0571b0"/>
<circle opacity="0.2" stroke="#2a7fc0" cx="1293.1" cy="346.6" r="3.95" fill="#0571b0"/>
<circle opacity="0.2" stroke="#2a7fc0" cx="1295.7" cy="348.1" r="3.95" fill="#0571b0"/>
<circle opacity="0.2" stroke="#2a7fc0" cx="1305.6" cy="347.1" r="3.95" fill="#0571b0"/>
<circle opacity="0.2" stroke="#2a7fc0" cx="1289.9" cy="354.3" r="3.95" fill="#0571b0"/>
<circle opacity="0.2" stroke="#2a7fc0" cx="1314.4" cy="353.4" r="3.95" fill="#0571b0"/>
<circle opacity="0.2" stroke="#2a7fc0" cx="1310.5" cy="357.3" r="3.95" fill="#0571b0"/>
<circle opacity="0.2" stroke="#2a7fc0" cx="1312.5" cy="355.8" r="3.95" fill="#0571b0"/>
<circle opacity="0.2" stroke="#2a7fc0" cx="1316.6" cy="361.9" r="3.95" fill="#0571b0"/>
<circle opacity="0.2" stroke="#2a7fc0" cx="1298.2" cy="362.1" r="3.95" fill="#0571b0"/>
<circle opacity="0.2" stroke="#2a7fc0" cx="1309.5" cy="367.5" r="3.95" fill="#0571b0"/>
<circle opacity="0.2" stroke="#2a7fc0" cx="1338.4" cy="359.4" r="3.95" fill="#0571b0"/>
<circle opacity="0.2" stroke="#2a7fc0" cx="1342.7" cy="365.7" r="3.95" fill="#0571b0"/>
<circle opacity="0.2" stroke="#2a7fc0" cx="1344.7" cy="378.1" r="3.95" fill="#0571b0"/>
<circle opacity="0.2" stroke="#2a7fc0" cx="1362.1" cy="375.5" r="3.95" fill="#0571b0"/>
<circle opacity="0.2" stroke="#2a7fc0" cx="1308.5" cy="379.8" r="3.95" fill="#0571b0"/>
<circle opacity="0.2" stroke="#2a7fc0" cx="1308.7" cy="387.5" r="3.95" fill="#0571b0"/>
<circle opacity="0.2" stroke="#2a7fc0" cx="1252.3" cy="327.2" r="3.95" fill="#92c5de"/>
<circle opacity="0.2" stroke="#2a7fc0" cx="1272.5" cy="330.3" r="3.95" fill="#92c5de"/>
<circle opacity="0.2" stroke="#2a7fc0" cx="1256.9" cy="334.9" r="3.95" fill="#92c5de"/>
<circle opacity="0.2" stroke="#2a7fc0" cx="1253.3" cy="336.4" r="3.95" fill="#92c5de"/>
<circle opacity="0.2" stroke="#2a7fc0" cx="1268.9" cy="342.5" r="3.95" fill="#92c5de"/>
<circle opacity="0.2" stroke="#2a7fc0" cx="1277.6" cy="344.6" r="3.95" fill="#92c5de"/>
<circle opacity="0.2" stroke="#2a7fc0" cx="1276.6" cy="350.7" r="3.95" fill="#92c5de"/>
<circle opacity="0.2" stroke="#2a7fc0" cx="1254.3" cy="353.8" r="3.95" fill="#92c5de"/>
<circle opacity="0.2" stroke="#2a7fc0" cx="1279.6" cy="356.3" r="3.95" fill="#92c5de"/>
<circle opacity="0.2" stroke="#2a7fc0" cx="1282.9" cy="364.0" r="3.95" fill="#92c5de"/>
<circle opacity="0.2" stroke="#2a7fc0" cx="1280.4" cy="367.5" r="3.95" fill="#92c5de"/>
<circle opacity="0.2" stroke="#2a7fc0" cx="1290.4" cy="364.7" r="3.95" fill="#92c5de"/>
<circle opacity="0.2" stroke="#2a7fc0" cx="1271.2" cy="368.6" r="3.95" fill="#92c5de"/>
<circle opacity="0.2" stroke="#2a7fc0" cx="1297.2" cy="383.2" r="3.95" fill="#92c5de"/>
<circle opacity="0.2" stroke="#2a7fc0" cx="1270.7" cy="387.5" r="3.95" fill="#92c5de"/>
<circle opacity="0.2" stroke="#2a7fc0" cx="1273.2" cy="389.7" r="3.95" fill="#92c5de"/>
<circle opacity="0.2" stroke="#2a7fc0" cx="1068.9" cy="394.4" r="3.95" fill="#f4a582"/>
<circle opacity="0.2" stroke="#2a7fc0" cx="1136.5" cy="395.3" r="3.95" fill="#f4a582"/>
<circle opacity="0.2" stroke="#2a7fc0" cx="1126.1" cy="407.3" r="3.95" fill="#f4a582"/>
<circle opacity="0.2" stroke="#2a7fc0" cx="1142.1" cy="408.9" r="3.95" fill="#f4a582"/>
<circle opacity="0.2" stroke="#2a7fc0" cx="1145.1" cy="411.0" r="3.95" fill="#f4a582"/>
<circle opacity="0.2" stroke="#2a7fc0" cx="1129.0" cy="423.0" r="3.95" fill="#f4a582"/>
<circle opacity="0.2" stroke="#2a7fc0" cx="1098.6" cy="440.6" r="3.95" fill="#f4a582"/>
<circle opacity="0.2" stroke="#2a7fc0" cx="1070.6" cy="460.6" r="3.95" fill="#f4a582"/>
<circle opacity="0.2" stroke="#2a7fc0" cx="1018.7" cy="514.5" r="3.95" fill="#f4a582"/>
<circle opacity="0.2" stroke="#2a7fc0" cx="1152.3" cy="406.5" r="3.95" fill="#f4a582"/>
<circle opacity="0.2" stroke="#2a7fc0" cx="1151.9" cy="426.5" r="3.95" fill="#f4a582"/>
<circle opacity="0.2" stroke="#2a7fc0" cx="1168.4" cy="411.6" r="3.95" fill="#f4a582"/>
<circle opacity="0.2" stroke="#2a7fc0" cx="1178.8" cy="406.5" r="3.95" fill="#f4a582"/>
<circle opacity="0.2" stroke="#2a7fc0" cx="1203.9" cy="397.3" r="3.95" fill="#f4a582"/>
<circle opacity="0.2" stroke="#2a7fc0" cx="1211.1" cy="398.9" r="3.95" fill="#f4a582"/>
<circle opacity="0.2" stroke="#2a7fc0" cx="1215.0" cy="398.7" r="3.95" fill="#f4a582"/>
<circle opacity="0.2" stroke="#2a7fc0" cx="1224.2" cy="402.8" r="3.95" fill="#f4a582"/>
<circle opacity="0.2" stroke="#2a7fc0" cx="1207.4" cy="408.1" r="3.95" fill="#f4a582"/>
<circle opacity="0.2" stroke="#2a7fc0" cx="1224.4" cy="410.0" r="3.95" fill="#f4a582"/>
<circle opacity="0.2" stroke="#2a7fc0" cx="1205.8" cy="421.4" r="3.95" fill="#f4a582"/>
<circle opacity="0.2" stroke="#2a7fc0" cx="1200.3" cy="428.3" r="3.95" fill="#f4a582"/>
<circle opacity="0.2" stroke="#2a7fc0" cx="1206.8" cy="433.2" r="3.95" fill="#f4a582"/>
<circle opacity="0.2" stroke="#2a7fc0" cx="1214.6" cy="433.0" r="3.95" fill="#f4a582"/>
<circle opacity="0.2" stroke="#2a7fc0" cx="1224.2" cy="434.5" r="3.95" fill="#f4a582"/>
<circle opacity="0.2" stroke="#2a7fc0" cx="1176.2" cy="444.9" r="3.95" fill="#f4a582"/>
<circle opacity="0.2" stroke="#2a7fc0" cx="1197.8" cy="450.2" r="3.95" fill="#f4a582"/>
<circle opacity="0.2" stroke="#2a7fc0" cx="1202.7" cy="453.5" r="3.95" fill="#f4a582"/>
<circle opacity="0.2" stroke="#2a7fc0" cx="1221.7" cy="459.0" r="3.95" fill="#f4a582"/>
<circle opacity="0.2" stroke="#2a7fc0" cx="1221.1" cy="467.3" r="3.95" fill="#f4a582"/>
<circle opacity="0.2" stroke="#2a7fc0" cx="1221.3" cy="467.7" r="3.95" fill="#f4a582"/>
<circle opacity="0.2" stroke="#2a7fc0" cx="1239.5" cy="400.4" r="3.95" fill="#92c5de"/>
<circle opacity="0.2" stroke="#2a7fc0" cx="1236.6" cy="403.8" r="3.95" fill="#92c5de"/>
<circle opacity="0.2" stroke="#2a7fc0" cx="1257.4" cy="396.7" r="3.95" fill="#92c5de"/>
<circle opacity="0.2" stroke="#2a7fc0" cx="1280.3" cy="396.7" r="3.95" fill="#92c5de"/>
<circle opacity="0.2" stroke="#2a7fc0" cx="1291.7" cy="397.9" r="3.95" fill="#92c5de"/>
<circle opacity="0.2" stroke="#2a7fc0" cx="1296.4" cy="404.9" r="3.95" fill="#92c5de"/>
<circle opacity="0.2" stroke="#2a7fc0" cx="1271.5" cy="410.0" r="3.95" fill="#92c5de"/>
<circle opacity="0.2" stroke="#2a7fc0" cx="1278.1" cy="416.5" r="3.95" fill="#92c5de"/>
<circle opacity="0.2" stroke="#2a7fc0" cx="1250.3" cy="419.1" r="3.95" fill="#92c5de"/>
<circle opacity="0.2" stroke="#2a7fc0" cx="1242.5" cy="423.2" r="3.95" fill="#92c5de"/>
<circle opacity="0.2" stroke="#2a7fc0" cx="1260.9" cy="422.0" r="3.95" fill="#92c5de"/>
<circle opacity="0.2" stroke="#2a7fc0" cx="1266.8" cy="431.6" r="3.95" fill="#92c5de"/>
<circle opacity="0.2" stroke="#2a7fc0" cx="1242.5" cy="439.2" r="3.95" fill="#92c5de"/>
<circle opacity="0.2" stroke="#2a7fc0" cx="1244.6" cy="444.7" r="3.95" fill="#92c5de"/>
<circle opacity="0.2" stroke="#2a7fc0" cx="1266.6" cy="441.2" r="3.95" fill="#92c5de"/>
<circle opacity="0.2" stroke="#2a7fc0" cx="1233.5" cy="447.5" r="3.95" fill="#92c5de"/>
<circle opacity="0.2" stroke="#2a7fc0" cx="1270.5" cy="451.0" r="3.95" fill="#92c5de"/>
<circle opacity="0.2" stroke="#2a7fc0" cx="1245.4" cy="455.7" r="3.95" fill="#92c5de"/>
<circle opacity="0.2" stroke="#2a7fc0" cx="1289.5" cy="448.8" r="3.95" fill="#92c5de"/>
<circle opacity="0.2" stroke="#2a7fc0" cx="1292.6" cy="453.9" r="3.95" fill="#92c5de"/>
<circle opacity="0.2" stroke="#2a7fc0" cx="1298.3" cy="463.7" r="3.95" fill="#92c5de"/>
<circle opacity="0.2" stroke="#2a7fc0" cx="1282.1" cy="467.7" r="3.95" fill="#92c5de"/>
<circle opacity="0.2" stroke="#2a7fc0" cx="1231.9" cy="466.5" r="3.95" fill="#92c5de"/>
<circle opacity="0.2" stroke="#2a7fc0" cx="1228.2" cy="472.4" r="3.95" fill="#92c5de"/>
<circle opacity="0.2" stroke="#2a7fc0" cx="1254.4" cy="474.9" r="3.95" fill="#92c5de"/>
<circle opacity="0.2" stroke="#2a7fc0" cx="1299.7" cy="475.3" r="3.95" fill="#92c5de"/>
<circle opacity="0.2" stroke="#2a7fc0" cx="1244.8" cy="483.5" r="3.95" fill="#92c5de"/>
<circle opacity="0.2" stroke="#2a7fc0" cx="1281.5" cy="487.1" r="3.95" fill="#92c5de"/>
<circle opacity="0.2" stroke="#2a7fc0" cx="1313.6" cy="489.8" r="3.95" fill="#92c5de"/>
<circle opacity="0.2" stroke="#2a7fc0" cx="1248.0" cy="506.5" r="3.95" fill="#92c5de"/>
<circle opacity="0.2" stroke="#2a7fc0" cx="1287.7" cy="512.5" r="3.95" fill="#92c5de"/>
<circle opacity="0.2" stroke="#2a7fc0" cx="1304.2" cy="428.9" r="3.95" fill="#92c5de"/>
<circle opacity="0.2" stroke="#2a7fc0" cx="1316.2" cy="421.4" r="3.95" fill="#92c5de"/>
<circle opacity="0.2" stroke="#2a7fc0" cx="1324.8" cy="446.7" r="3.95" fill="#92c5de"/>
<circle opacity="0.2" stroke="#2a7fc0" cx="1325.2" cy="452.6" r="3.95" fill="#92c5de"/>
<circle opacity="0.2" stroke="#2a7fc0" cx="1324.4" cy="395.1" r="3.95" fill="#0571b0"/>
<circle opacity="0.2" stroke="#2a7fc0" cx="1317.3" cy="405.5" r="3.95" fill="#0571b0"/>
<circle opacity="0.2" stroke="#2a7fc0" cx="1323.8" cy="409.1" r="3.95" fill="#0571b0"/>
<circle opacity="0.2" stroke="#2a7fc0" cx="1325.8" cy="424.5" r="3.95" fill="#0571b0"/>
<circle opacity="0.2" stroke="#2a7fc0" cx="1328.9" cy="424.3" r="3.95" fill="#0571b0"/>
<circle opacity="0.2" stroke="#2a7fc0" cx="1340.1" cy="440.0" r="3.95" fill="#0571b0"/>
<circle opacity="0.2" stroke="#2a7fc0" cx="1360.2" cy="449.6" r="3.95" fill="#0571b0"/>
<circle opacity="0.2" stroke="#2a7fc0" cx="1378.3" cy="454.3" r="3.95" fill="#0571b0"/>
<circle opacity="0.2" stroke="#2a7fc0" cx="1391.8" cy="469.8" r="3.95" fill="#0571b0"/>
<circle opacity="0.2" stroke="#2a7fc0" cx="1418.4" cy="467.1" r="3.95" fill="#0571b0"/>
<circle opacity="0.2" stroke="#2a7fc0" cx="1387.1" cy="496.7" r="3.95" fill="#0571b0"/>
<circle opacity="0.2" stroke="#2a7fc0" cx="1425.9" cy="506.8" r="3.95" fill="#0571b0"/>
<circle opacity="0.2" stroke="#2a7fc0" cx="1433.3" cy="502.5" r="3.95" fill="#0571b0"/>
<circle opacity="0.2" stroke="#2a7fc0" cx="1225.7" cy="527.1" r="3.95" fill="#92c5de"/>
<circle opacity="0.2" stroke="#2a7fc0" cx="1291.8" cy="524.5" r="3.95" fill="#92c5de"/>
<circle opacity="0.2" stroke="#2a7fc0" cx="1329.6" cy="553.8" r="3.95" fill="#92c5de"/>
<circle opacity="0.2" stroke="#2a7fc0" cx="1306.6" cy="567.7" r="3.95" fill="#92c5de"/>
<circle opacity="0.2" stroke="#2a7fc0" cx="1302.0" cy="584.4" r="3.95" fill="#92c5de"/>
<circle opacity="0.2" stroke="#2a7fc0" cx="1385.6" cy="562.5" r="3.95" fill="#92c5de"/>
<circle opacity="0.2" stroke="#2a7fc0" cx="1484.3" cy="574.8" r="3.95" fill="#92c5de"/>
<circle opacity="0.2" stroke="#2a7fc0" cx="1225.2" cy="610.8" r="3.95" fill="#92c5de"/>
<circle opacity="0.2" stroke="#2a7fc0" cx="1068.9" cy="543.6" r="3.95" fill="#f4a582"/>
<circle opacity="0.2" stroke="#2a7fc0" cx="1073.4" cy="545.9" r="3.95" fill="#f4a582"/>
<circle cx="1166.5" cy="47.3" r="3.95" fill="#ca0020" stroke="#2a7fc0" opacity="0.8"/>
<circle cx="1204.9" cy="49.8" r="3.95" fill="#ca0020" stroke="#2a7fc0" opacity="0.8"/>
<circle cx="1197.7" cy="57.5" r="3.95" fill="#ca0020" stroke="#2a7fc0" opacity="0.8"/>
<circle cx="1160.8" cy="61.6" r="3.95" fill="#ca0020" stroke="#2a7fc0" opacity="0.8"/>
<circle cx="1191.4" cy="65.5" r="3.95" fill="#ca0020" stroke="#2a7fc0" opacity="0.8"/>
<circle cx="1185.1" cy="67.7" r="3.95" fill="#ca0020" stroke="#2a7fc0" opacity="0.8"/>
<circle cx="1185.1" cy="68.2" r="3.95" fill="#ca0020" stroke="#2a7fc0" opacity="0.8"/>
<circle cx="1054.6" cy="88.2" r="3.95" fill="#ca0020" stroke="#2a7fc0" opacity="0.8"/>
<circle cx="1158.1" cy="92.7" r="3.95" fill="#ca0020" stroke="#2a7fc0" opacity="0.8"/>
<circle cx="1093.6" cy="103.1" r="3.95" fill="#ca0020" stroke="#2a7fc0" opacity="0.8"/>
<circle cx="1203.6" cy="100.4" r="3.95" fill="#ca0020" stroke="#2a7fc0" opacity="0.8"/>
<circle cx="1177.7" cy="104.3" r="3.95" fill="#ca0020" stroke="#2a7fc0" opacity="0.8"/>
<circle cx="1176.3" cy="110.6" r="3.95" fill="#ca0020" stroke="#2a7fc0" opacity="0.8"/>
<circle cx="1181.0" cy="110.2" r="3.95" fill="#ca0020" stroke="#2a7fc0" opacity="0.8"/>
<circle cx="1142.8" cy="113.9" r="3.95" fill="#ca0020" stroke="#2a7fc0" opacity="0.8"/>
<circle cx="1054.2" cy="122.9" r="3.95" fill="#ca0020" stroke="#2a7fc0" opacity="0.8"/>
<circle cx="1185.7" cy="124.7" r="3.95" fill="#ca0020" stroke="#2a7fc0" opacity="0.8"/>
<circle cx="1170.6" cy="127.2" r="3.95" fill="#ca0020" stroke="#2a7fc0" opacity="0.8"/>
<circle cx="1183.4" cy="129.2" r="3.95" fill="#ca0020" stroke="#2a7fc0" opacity="0.8"/>
<circle cx="969.0" cy="39.0" r="3.95" fill="#ca0020" stroke="#2a7fc0" opacity="0.8"/>
<circle cx="949.0" cy="117.3" r="3.95" fill="#ca0020" stroke="#2a7fc0" opacity="0.8"/>
<circle cx="961.7" cy="154.0" r="3.95" fill="#ca0020" stroke="#2a7fc0" opacity="0.8"/>
<circle cx="918.4" cy="183.2" r="3.95" fill="#ca0020" stroke="#2a7fc0" opacity="0.8"/>
<circle cx="908.4" cy="209.8" r="3.95" fill="#ca0020" stroke="#2a7fc0" opacity="0.8"/>
<circle cx="844.3" cy="219.6" r="3.95" fill="#ca0020" stroke="#2a7fc0" opacity="0.8"/>
<circle cx="1064.9" cy="186.3" r="3.95" fill="#ca0020" stroke="#2a7fc0" opacity="0.8"/>
<circle cx="1098.8" cy="160.8" r="3.95" fill="#ca0020" stroke="#2a7fc0" opacity="0.8"/>
<circle cx="1100.0" cy="171.4" r="3.95" fill="#ca0020" stroke="#2a7fc0" opacity="0.8"/>
<circle cx="1116.5" cy="172.4" r="3.95" fill="#ca0020" stroke="#2a7fc0" opacity="0.8"/>
<circle cx="1130.2" cy="142.8" r="3.95" fill="#ca0020" stroke="#2a7fc0" opacity="0.8"/>
<circle cx="1147.2" cy="133.8" r="3.95" fill="#ca0020" stroke="#2a7fc0" opacity="0.8"/>
<circle cx="1148.2" cy="153.2" r="3.95" fill="#ca0020" stroke="#2a7fc0" opacity="0.8"/>
<circle cx="1076.7" cy="211.2" r="3.95" fill="#ca0020" stroke="#2a7fc0" opacity="0.8"/>
<circle cx="1106.3" cy="208.6" r="3.95" fill="#ca0020" stroke="#2a7fc0" opacity="0.8"/>
<circle cx="1117.5" cy="225.3" r="3.95" fill="#ca0020" stroke="#2a7fc0" opacity="0.8"/>
<circle cx="1111.2" cy="230.4" r="3.95" fill="#ca0020" stroke="#2a7fc0" opacity="0.8"/>
<circle cx="1119.0" cy="235.7" r="3.95" fill="#ca0020" stroke="#2a7fc0" opacity="0.8"/>
<circle cx="1143.7" cy="239.8" r="3.95" fill="#ca0020" stroke="#2a7fc0" opacity="0.8"/>
<circle cx="1139.6" cy="241.9" r="3.95" fill="#ca0020" stroke="#2a7fc0" opacity="0.8"/>
<circle cx="1084.7" cy="252.3" r="3.95" fill="#ca0020" stroke="#2a7fc0" opacity="0.8"/>
<circle cx="1097.3" cy="252.9" r="3.95" fill="#ca0020" stroke="#2a7fc0" opacity="0.8"/>
<circle cx="1132.9" cy="253.9" r="3.95" fill="#ca0020" stroke="#2a7fc0" opacity="0.8"/>
<circle cx="1138.2" cy="256.3" r="3.95" fill="#ca0020" stroke="#2a7fc0" opacity="0.8"/>
<circle cx="1204.7" cy="136.1" r="3.95" fill="#ca0020" stroke="#2a7fc0" opacity="0.8"/>
<circle cx="1202.6" cy="139.5" r="3.95" fill="#ca0020" stroke="#2a7fc0" opacity="0.8"/>
<circle cx="1152.3" cy="147.0" r="3.95" fill="#ca0020" stroke="#2a7fc0" opacity="0.8"/>
<circle cx="1180.1" cy="146.5" r="3.95" fill="#ca0020" stroke="#2a7fc0" opacity="0.8"/>
<circle cx="1172.7" cy="152.4" r="3.95" fill="#ca0020" stroke="#2a7fc0" opacity="0.8"/>
<circle cx="1197.4" cy="149.8" r="3.95" fill="#ca0020" stroke="#2a7fc0" opacity="0.8"/>
<circle cx="1201.0" cy="153.4" r="3.95" fill="#ca0020" stroke="#2a7fc0" opacity="0.8"/>
<circle cx="1190.1" cy="154.4" r="3.95" fill="#ca0020" stroke="#2a7fc0" opacity="0.8"/>
<circle cx="1187.5" cy="155.7" r="3.95" fill="#ca0020" stroke="#2a7fc0" opacity="0.8"/>
<circle cx="1196.7" cy="160.5" r="3.95" fill="#ca0020" stroke="#2a7fc0" opacity="0.8"/>
<circle cx="1203.9" cy="159.1" r="3.95" fill="#ca0020" stroke="#2a7fc0" opacity="0.8"/>
<circle cx="1191.4" cy="167.4" r="3.95" fill="#ca0020" stroke="#2a7fc0" opacity="0.8"/>
<circle cx="1200.9" cy="169.0" r="3.95" fill="#ca0020" stroke="#2a7fc0" opacity="0.8"/>
<circle cx="1187.5" cy="174.1" r="3.95" fill="#ca0020" stroke="#2a7fc0" opacity="0.8"/>
<circle cx="1185.8" cy="177.1" r="3.95" fill="#ca0020" stroke="#2a7fc0" opacity="0.8"/>
<circle cx="1196.2" cy="174.1" r="3.95" fill="#ca0020" stroke="#2a7fc0" opacity="0.8"/>
<circle cx="1199.1" cy="173.3" r="3.95" fill="#ca0020" stroke="#2a7fc0" opacity="0.8"/>
<circle cx="1197.9" cy="180.2" r="3.95" fill="#ca0020" stroke="#2a7fc0" opacity="0.8"/>
<circle cx="1173.9" cy="182.6" r="3.95" fill="#ca0020" stroke="#2a7fc0" opacity="0.8"/>
<circle cx="1191.1" cy="187.6" r="3.95" fill="#ca0020" stroke="#2a7fc0" opacity="0.8"/>
<circle cx="1153.8" cy="190.2" r="3.95" fill="#ca0020" stroke="#2a7fc0" opacity="0.8"/>
<circle cx="1180.2" cy="192.5" r="3.95" fill="#ca0020" stroke="#2a7fc0" opacity="0.8"/>
<circle cx="1187.5" cy="193.5" r="3.95" fill="#ca0020" stroke="#2a7fc0" opacity="0.8"/>
<circle cx="1162.8" cy="199.2" r="3.95" fill="#ca0020" stroke="#2a7fc0" opacity="0.8"/>
<circle cx="1168.1" cy="196.2" r="3.95" fill="#ca0020" stroke="#2a7fc0" opacity="0.8"/>
<circle cx="1183.9" cy="196.7" r="3.95" fill="#ca0020" stroke="#2a7fc0" opacity="0.8"/>
<circle cx="1171.7" cy="201.8" r="3.95" fill="#ca0020" stroke="#2a7fc0" opacity="0.8"/>
<circle cx="1178.0" cy="201.1" r="3.95" fill="#ca0020" stroke="#2a7fc0" opacity="0.8"/>
<circle cx="1171.7" cy="207.4" r="3.95" fill="#ca0020" stroke="#2a7fc0" opacity="0.8"/>
<circle cx="1177.8" cy="209.5" r="3.95" fill="#ca0020" stroke="#2a7fc0" opacity="0.8"/>
<circle cx="1188.0" cy="205.4" r="3.95" fill="#ca0020" stroke="#2a7fc0" opacity="0.8"/>
<circle cx="1182.7" cy="214.0" r="3.95" fill="#ca0020" stroke="#2a7fc0" opacity="0.8"/>
<circle cx="1192.3" cy="216.3" r="3.95" fill="#ca0020" stroke="#2a7fc0" opacity="0.8"/>
<circle cx="1153.8" cy="219.4" r="3.95" fill="#ca0020" stroke="#2a7fc0" opacity="0.8"/>
<circle cx="1158.9" cy="217.8" r="3.95" fill="#ca0020" stroke="#2a7fc0" opacity="0.8"/>
<circle cx="1161.0" cy="218.4" r="3.95" fill="#ca0020" stroke="#2a7fc0" opacity="0.8"/>
<circle cx="1167.6" cy="218.6" r="3.95" fill="#ca0020" stroke="#2a7fc0" opacity="0.8"/>
<circle cx="1178.0" cy="222.2" r="3.95" fill="#ca0020" stroke="#2a7fc0" opacity="0.8"/>
<circle cx="1180.4" cy="221.2" r="3.95" fill="#ca0020" stroke="#2a7fc0" opacity="0.8"/>
<circle cx="1179.3" cy="224.8" r="3.95" fill="#ca0020" stroke="#2a7fc0" opacity="0.8"/>
<circle cx="1180.9" cy="228.9" r="3.95" fill="#ca0020" stroke="#2a7fc0" opacity="0.8"/>
<circle cx="1187.7" cy="231.7" r="3.95" fill="#ca0020" stroke="#2a7fc0" opacity="0.8"/>
<circle cx="1186.3" cy="236.0" r="3.95" fill="#ca0020" stroke="#2a7fc0" opacity="0.8"/>
<circle cx="1167.6" cy="233.1" r="3.95" fill="#ca0020" stroke="#2a7fc0" opacity="0.8"/>
<circle cx="1159.9" cy="240.6" r="3.95" fill="#ca0020" stroke="#2a7fc0" opacity="0.8"/>
<circle cx="1161.0" cy="244.7" r="3.95" fill="#ca0020" stroke="#2a7fc0" opacity="0.8"/>
<circle cx="1172.4" cy="241.9" r="3.95" fill="#ca0020" stroke="#2a7fc0" opacity="0.8"/>
<circle cx="1181.4" cy="245.5" r="3.95" fill="#ca0020" stroke="#2a7fc0" opacity="0.8"/>
<circle cx="1165.0" cy="249.8" r="3.95" fill="#ca0020" stroke="#2a7fc0" opacity="0.8"/>
<circle cx="1175.8" cy="251.3" r="3.95" fill="#ca0020" stroke="#2a7fc0" opacity="0.8"/>
<circle cx="1177.3" cy="250.8" r="3.95" fill="#ca0020" stroke="#2a7fc0" opacity="0.8"/>
<circle cx="1169.6" cy="254.4" r="3.95" fill="#ca0020" stroke="#2a7fc0" opacity="0.8"/>
<circle cx="1177.8" cy="256.4" r="3.95" fill="#ca0020" stroke="#2a7fc0" opacity="0.8"/>
<circle cx="831.2" cy="379.6" r="3.95" fill="#ca0020" stroke="#2a7fc0" opacity="0.8"/>
<circle cx="879.0" cy="314.3" r="3.95" fill="#ca0020" stroke="#2a7fc0" opacity="0.8"/>
<circle cx="952.3" cy="304.3" r="3.95" fill="#ca0020" stroke="#2a7fc0" opacity="0.8"/>
<circle cx="982.8" cy="328.2" r="3.95" fill="#ca0020" stroke="#2a7fc0" opacity="0.8"/>
<circle cx="1002.4" cy="325.9" r="3.95" fill="#ca0020" stroke="#2a7fc0" opacity="0.8"/>
<circle cx="1038.7" cy="311.8" r="3.95" fill="#ca0020" stroke="#2a7fc0" opacity="0.8"/>
<circle cx="1050.0" cy="313.2" r="3.95" fill="#ca0020" stroke="#2a7fc0" opacity="0.8"/>
<circle cx="1083.4" cy="307.9" r="3.95" fill="#ca0020" stroke="#2a7fc0" opacity="0.8"/>
<circle cx="1096.1" cy="314.3" r="3.95" fill="#ca0020" stroke="#2a7fc0" opacity="0.8"/>
<circle cx="1107.5" cy="315.7" r="3.95" fill="#ca0020" stroke="#2a7fc0" opacity="0.8"/>
<circle cx="1105.5" cy="268.3" r="3.95" fill="#ca0020" stroke="#2a7fc0" opacity="0.8"/>
<circle cx="1101.0" cy="285.9" r="3.95" fill="#ca0020" stroke="#2a7fc0" opacity="0.8"/>
<circle cx="1101.6" cy="293.6" r="3.95" fill="#ca0020" stroke="#2a7fc0" opacity="0.8"/>
<circle cx="1072.6" cy="324.5" r="3.95" fill="#ca0020" stroke="#2a7fc0" opacity="0.8"/>
<circle cx="1093.7" cy="330.0" r="3.95" fill="#ca0020" stroke="#2a7fc0" opacity="0.8"/>
<circle cx="1079.0" cy="335.9" r="3.95" fill="#ca0020" stroke="#2a7fc0" opacity="0.8"/>
<circle cx="1094.7" cy="341.8" r="3.95" fill="#ca0020" stroke="#2a7fc0" opacity="0.8"/>
<circle cx="1110.2" cy="337.7" r="3.95" fill="#ca0020" stroke="#2a7fc0" opacity="0.8"/>
<circle cx="1110.6" cy="342.9" r="3.95" fill="#ca0020" stroke="#2a7fc0" opacity="0.8"/>
<circle cx="1041.8" cy="342.9" r="3.95" fill="#ca0020" stroke="#2a7fc0" opacity="0.8"/>
<circle cx="1073.2" cy="346.7" r="3.95" fill="#ca0020" stroke="#2a7fc0" opacity="0.8"/>
<circle cx="1075.7" cy="348.4" r="3.95" fill="#ca0020" stroke="#2a7fc0" opacity="0.8"/>
<circle cx="1080.8" cy="352.5" r="3.95" fill="#ca0020" stroke="#2a7fc0" opacity="0.8"/>
<circle cx="1072.6" cy="355.5" r="3.95" fill="#ca0020" stroke="#2a7fc0" opacity="0.8"/>
<circle cx="1019.9" cy="356.7" r="3.95" fill="#ca0020" stroke="#2a7fc0" opacity="0.8"/>
<circle cx="1052.4" cy="364.7" r="3.95" fill="#ca0020" stroke="#2a7fc0" opacity="0.8"/>
<circle cx="1054.9" cy="366.5" r="3.95" fill="#ca0020" stroke="#2a7fc0" opacity="0.8"/>
<circle cx="1039.9" cy="372.5" r="3.95" fill="#ca0020" stroke="#2a7fc0" opacity="0.8"/>
<circle cx="1015.4" cy="378.0" r="3.95" fill="#ca0020" stroke="#2a7fc0" opacity="0.8"/>
<circle cx="1099.8" cy="359.4" r="3.95" fill="#ca0020" stroke="#2a7fc0" opacity="0.8"/>
<circle cx="1093.2" cy="362.3" r="3.95" fill="#ca0020" stroke="#2a7fc0" opacity="0.8"/>
<circle cx="1090.6" cy="370.0" r="3.95" fill="#ca0020" stroke="#2a7fc0" opacity="0.8"/>
<circle cx="1120.4" cy="263.2" r="3.95" fill="#ca0020" stroke="#2a7fc0" opacity="0.8"/>
<circle cx="1141.4" cy="265.3" r="3.95" fill="#ca0020" stroke="#2a7fc0" opacity="0.8"/>
<circle cx="1141.4" cy="267.3" r="3.95" fill="#ca0020" stroke="#2a7fc0" opacity="0.8"/>
<circle cx="1152.6" cy="267.8" r="3.95" fill="#ca0020" stroke="#2a7fc0" opacity="0.8"/>
<circle cx="1156.7" cy="269.9" r="3.95" fill="#ca0020" stroke="#2a7fc0" opacity="0.8"/>
<circle cx="1166.4" cy="265.8" r="3.95" fill="#ca0020" stroke="#2a7fc0" opacity="0.8"/>
<circle cx="1168.1" cy="264.2" r="3.95" fill="#ca0020" stroke="#2a7fc0" opacity="0.8"/>
<circle cx="1166.4" cy="273.4" r="3.95" fill="#ca0020" stroke="#2a7fc0" opacity="0.8"/>
<circle cx="1174.6" cy="268.3" r="3.95" fill="#ca0020" stroke="#2a7fc0" opacity="0.8"/>
<circle cx="1176.6" cy="263.2" r="3.95" fill="#ca0020" stroke="#2a7fc0" opacity="0.8"/>
<circle cx="1181.7" cy="261.2" r="3.95" fill="#ca0020" stroke="#2a7fc0" opacity="0.8"/>
<circle cx="1128.1" cy="274.5" r="3.95" fill="#ca0020" stroke="#2a7fc0" opacity="0.8"/>
<circle cx="1128.1" cy="276.0" r="3.95" fill="#ca0020" stroke="#2a7fc0" opacity="0.8"/>
<circle cx="1130.7" cy="280.6" r="3.95" fill="#ca0020" stroke="#2a7fc0" opacity="0.8"/>
<circle cx="1149.9" cy="279.3" r="3.95" fill="#ca0020" stroke="#2a7fc0" opacity="0.8"/>
<circle cx="1159.8" cy="276.5" r="3.95" fill="#ca0020" stroke="#2a7fc0" opacity="0.8"/>
<circle cx="1175.6" cy="274.5" r="3.95" fill="#ca0020" stroke="#2a7fc0" opacity="0.8"/>
<circle cx="1178.7" cy="276.0" r="3.95" fill="#ca0020" stroke="#2a7fc0" opacity="0.8"/>
<circle cx="1165.9" cy="281.1" r="3.95" fill="#ca0020" stroke="#2a7fc0" opacity="0.8"/>
<circle cx="1168.7" cy="284.2" r="3.95" fill="#ca0020" stroke="#2a7fc0" opacity="0.8"/>
<circle cx="1175.6" cy="283.1" r="3.95" fill="#ca0020" stroke="#2a7fc0" opacity="0.8"/>
<circle cx="1176.3" cy="285.4" r="3.95" fill="#ca0020" stroke="#2a7fc0" opacity="0.8"/>
<circle cx="1175.1" cy="288.2" r="3.95" fill="#ca0020" stroke="#2a7fc0" opacity="0.8"/>
<circle cx="1138.6" cy="285.0" r="3.95" fill="#ca0020" stroke="#2a7fc0" opacity="0.8"/>
<circle cx="1120.7" cy="289.0" r="3.95" fill="#ca0020" stroke="#2a7fc0" opacity="0.8"/>
<circle cx="1132.4" cy="289.8" r="3.95" fill="#ca0020" stroke="#2a7fc0" opacity="0.8"/>
<circle cx="1138.3" cy="292.6" r="3.95" fill="#ca0020" stroke="#2a7fc0" opacity="0.8"/>
<circle cx="1151.4" cy="288.5" r="3.95" fill="#ca0020" stroke="#2a7fc0" opacity="0.8"/>
<circle cx="1170.5" cy="293.3" r="3.95" fill="#ca0020" stroke="#2a7fc0" opacity="0.8"/>
<circle cx="1150.4" cy="296.9" r="3.95" fill="#ca0020" stroke="#2a7fc0" opacity="0.8"/>
<circle cx="1156.7" cy="299.0" r="3.95" fill="#ca0020" stroke="#2a7fc0" opacity="0.8"/>
<circle cx="1144.1" cy="300.5" r="3.95" fill="#ca0020" stroke="#2a7fc0" opacity="0.8"/>
<circle cx="1148.0" cy="302.0" r="3.95" fill="#ca0020" stroke="#2a7fc0" opacity="0.8"/>
<circle cx="1153.6" cy="304.6" r="3.95" fill="#ca0020" stroke="#2a7fc0" opacity="0.8"/>
<circle cx="1161.6" cy="304.6" r="3.95" fill="#ca0020" stroke="#2a7fc0" opacity="0.8"/>
<circle cx="1166.7" cy="300.5" r="3.95" fill="#ca0020" stroke="#2a7fc0" opacity="0.8"/>
<circle cx="1128.8" cy="303.3" r="3.95" fill="#ca0020" stroke="#2a7fc0" opacity="0.8"/>
<circle cx="1117.1" cy="313.6" r="3.95" fill="#ca0020" stroke="#2a7fc0" opacity="0.8"/>
<circle cx="1136.5" cy="313.3" r="3.95" fill="#ca0020" stroke="#2a7fc0" opacity="0.8"/>
<circle cx="1143.9" cy="314.5" r="3.95" fill="#ca0020" stroke="#2a7fc0" opacity="0.8"/>
<circle cx="1159.1" cy="313.5" r="3.95" fill="#ca0020" stroke="#2a7fc0" opacity="0.8"/>
<circle cx="1133.7" cy="321.4" r="3.95" fill="#ca0020" stroke="#2a7fc0" opacity="0.8"/>
<circle cx="1141.9" cy="319.9" r="3.95" fill="#ca0020" stroke="#2a7fc0" opacity="0.8"/>
<circle cx="1147.5" cy="322.2" r="3.95" fill="#ca0020" stroke="#2a7fc0" opacity="0.8"/>
<circle cx="1119.2" cy="328.2" r="3.95" fill="#ca0020" stroke="#2a7fc0" opacity="0.8"/>
<circle cx="1131.7" cy="330.8" r="3.95" fill="#ca0020" stroke="#2a7fc0" opacity="0.8"/>
<circle cx="1136.3" cy="334.9" r="3.95" fill="#ca0020" stroke="#2a7fc0" opacity="0.8"/>
<circle cx="1146.0" cy="327.7" r="3.95" fill="#ca0020" stroke="#2a7fc0" opacity="0.8"/>
<circle cx="1142.9" cy="333.8" r="3.95" fill="#ca0020" stroke="#2a7fc0" opacity="0.8"/>
<circle cx="1143.4" cy="337.4" r="3.95" fill="#ca0020" stroke="#2a7fc0" opacity="0.8"/>
<circle cx="1112.8" cy="349.7" r="3.95" fill="#ca0020" stroke="#2a7fc0" opacity="0.8"/>
<circle cx="1119.4" cy="349.7" r="3.95" fill="#ca0020" stroke="#2a7fc0" opacity="0.8"/>
<circle cx="1122.0" cy="351.7" r="3.95" fill="#ca0020" stroke="#2a7fc0" opacity="0.8"/>
<circle cx="1118.9" cy="355.3" r="3.95" fill="#ca0020" stroke="#2a7fc0" opacity="0.8"/>
</g>
<path d="M845.5 611.5v5M899.5 611.5v5M953.5 611.5v5M1008.5 611.5v5M1062.5 611.5v5M1116.5 611.5v5M1171.5 611.5v5M1225.5 611.5v5M1279.5 611.5v5M1334.5 611.5v5M1388.5 611.5v5M1442.5 611.5v5M831.5 611.5h-5M831.5 568.5h-5M831.5 526.5h-5M831.5 483.5h-5M831.5 440.5h-5M831.5 397.5h-5M831.5 355.5h-5M831.5 312.5h-5M831.5 269.5h-5M831.5 226.5h-5M831.5 184.5h-5M831.5 141.5h-5M831.5 98.5h-5M831.5 55.5h-5M831.5 13.5h-5M831.5 11.5V612.0" stroke="#888" stroke-width="1" fill="none"/>
<text transform="matrix(1 0 0.001 1 -0.6271 0)" x="845.5" y="627.1" text-anchor="middle" font-size="10">-7</text>
<text transform="matrix(1 0 0.001 1 -0.6271 0)" x="899.5" y="627.1" text-anchor="middle" font-size="10">-6</text>
<text transform="matrix(1 0 0.001 1 -0.6271 0)" x="953.5" y="627.1" text-anchor="middle" font-size="10">-5</text>
<text transform="matrix(1 0 0.001 1 -0.6271 0)" x="1008.5" y="627.1" text-anchor="middle" font-size="10">-4</text>
<text transform="matrix(1 0 0.001 1 -0.6271 0)" x="1062.5" y="627.1" text-anchor="middle" font-size="10">-3</text>
<text transform="matrix(1 0 0.001 1 -0.6271 0)" x="1116.5" y="627.1" text-anchor="middle" font-size="10">-2</text>
<text transform="matrix(1 0 0.001 1 -0.6271 0)" x="1171.5" y="627.1" text-anchor="middle" font-size="10">-1</text>
<text transform="matrix(1 0 0.001 1 -0.6271 0)" x="1225.5" y="627.1" text-anchor="middle" font-size="10">0</text>
<text transform="matrix(1 0 0.001 1 -0.6271 0)" x="1279.5" y="627.1" text-anchor="middle" font-size="10">1</text>
<text transform="matrix(1 0 0.001 1 -0.6271 0)" x="1334.5" y="627.1" text-anchor="middle" font-size="10">2</text>
<text transform="matrix(1 0 0.001 1 -0.6271 0)" x="1388.5" y="627.1" text-anchor="middle" font-size="10">3</text>
<text transform="matrix(1 0 0.001 1 -0.6271 0)" x="1442.5" y="627.1" text-anchor="middle" font-size="10">4</text>
<text transform="matrix(1 0 0.001 1 -0.6151 0)" x="824.5" y="615.1" text-anchor="end" font-size="10">0</text>
<text transform="matrix(1 0 0.001 1 -0.5721 0)" x="824.5" y="572.1" text-anchor="end" font-size="10">1</text>
<text transform="matrix(1 0 0.001 1 -0.5301 0)" x="824.5" y="530.1" text-anchor="end" font-size="10">2</text>
<text transform="matrix(1 0 0.001 1 -0.4871 0)" x="824.5" y="487.1" text-anchor="end" font-size="10">3</text>
<text transform="matrix(1 0 0.001 1 -0.4441 0)" x="824.5" y="444.1" text-anchor="end" font-size="10">4</text>
<text transform="matrix(1 0 0.001 1 -0.4011 0)" x="824.5" y="401.1" text-anchor="end" font-size="10">5</text>
<text transform="matrix(1 0 0.001 1 -0.3591 0)" x="824.5" y="359.1" text-anchor="end" font-size="10">6</text>
<text transform="matrix(1 0 0.001 1 -0.3161 0)" x="824.5" y="316.1" text-anchor="end" font-size="10">7</text>
<text transform="matrix(1 0 0.001 1 -0.2731 0)" x="824.5" y="273.1" text-anchor="end" font-size="10">8</text>
<text transform="matrix(1 0 0.001 1 -0.2301 0)" x="824.5" y="230.1" text-anchor="end" font-size="10">9</text>
<text transform="matrix(1 0 0.001 1 -0.1881 0)" x="824.5" y="188.1" text-anchor="end" font-size="10">10</text>
<text transform="matrix(1 0 0.001 1 -0.1451 0)" x="824.5" y="145.1" text-anchor="end" font-size="10">11</text>
<text transform="matrix(1 0 0.001 1 -0.1021 0)" x="824.5" y="102.1" text-anchor="end" font-size="10">12</text>
<text transform="matrix(1 0 0.001 1 -0.0591 0)" x="824.5" y="59.1" text-anchor="end" font-size="10">13</text>
<text transform="matrix(1 0 0.001 1 -0.0171 0)" x="824.5" y="17.1" text-anchor="end" font-size="10">14</text>
<text transform="matrix(1 0 0.001 1 -0.6428 0)" x="1105.5" y="642.8" textLength="104.4" lengthAdjust="spacing" font-size="11" font-weight="bold">log2-FC in Dataset 2</text>
<text transform="translate(806.0,377.0) rotate(-90)" textLength="129.6" lengthAdjust="spacing" font-size="11" font-weight="bold">log2(1+CPM) in Dataset 2</text>
<text transform="matrix(1 0 0.001 1 -0.0200 0)" x="1502.3" y="20" font-size="11" font-weight="bold">FDR &lt; 0.05</text>
<circle cx="1507.1" cy="32" r="4.6" fill="#ca0020" stroke="#ca0020" stroke-width="0.6"/>
<text transform="matrix(1 0 0.001 1 -0.0353 0)" x="1520.5" y="35.3" font-size="10">Sig Down</text>
<circle cx="1507.1" cy="47" r="4.6" fill="#f4a582" stroke="#f4a582" stroke-width="0.6"/>
<text transform="matrix(1 0 0.001 1 -0.0503 0)" x="1520.5" y="50.3" font-size="10">Down</text>
<circle cx="1507.1" cy="62" r="4.6" fill="#92c5de" stroke="#92c5de" stroke-width="0.6"/>
<text transform="matrix(1 0 0.001 1 -0.0653 0)" x="1520.5" y="65.3" font-size="10">Up</text>
<circle cx="1507.1" cy="77" r="4.6" fill="#0571b0" stroke="#0571b0" stroke-width="0.6"/>
<text transform="matrix(1 0 0.001 1 -0.0803 0)" x="1520.5" y="80.3" font-size="10">Sig Up</text>
<circle cx="1507.1" cy="92" r="4.6" fill="#808080" stroke="#808080" stroke-width="0.6"/>
<text transform="matrix(1 0 0.001 1 -0.0953 0)" x="1520.5" y="95.3" font-size="10">None</text>
</svg>
</body></html>
